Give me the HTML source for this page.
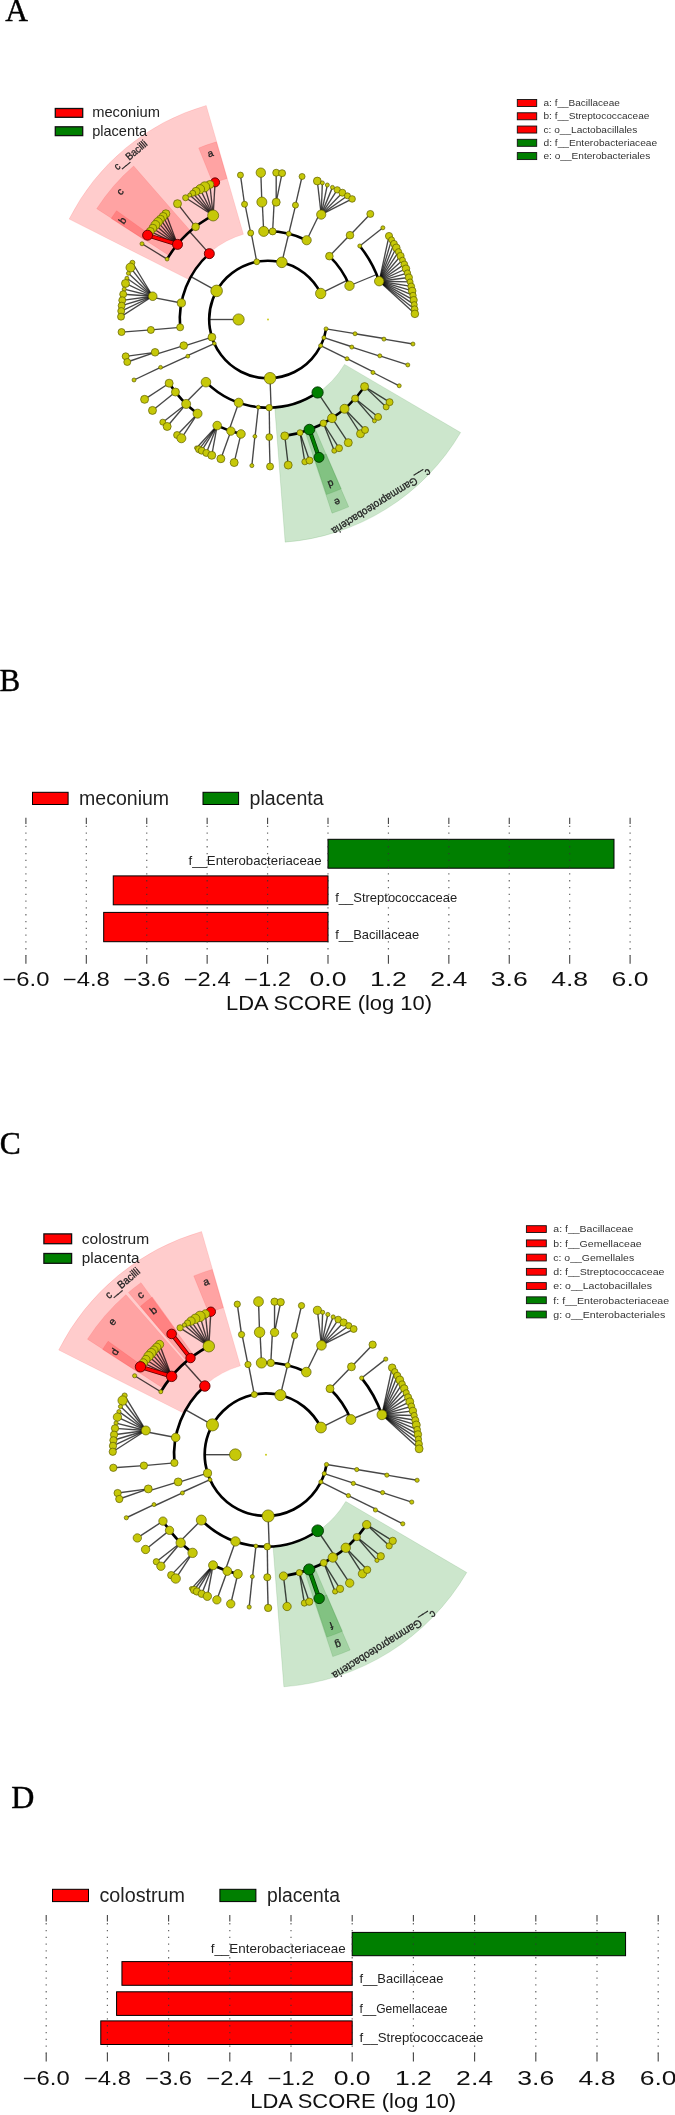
<!DOCTYPE html>
<html><head><meta charset="utf-8"><style>html,body{margin:0;padding:0;background:#fff;}svg{display:block;font-family:"Liberation Sans",sans-serif;filter:blur(0.35px);}</style></head><body>
<svg width="675" height="2115" viewBox="0 0 675 2115">
<rect width="675" height="2115" fill="#fff"/>
<text x="5.3" y="20.9" font-family="Liberation Serif" font-size="31.5" fill="#000" stroke="#000" stroke-width="0.45">A</text>
<text x="-0.6" y="690.6" font-family="Liberation Serif" font-size="31" fill="#000" stroke="#000" stroke-width="0.45">B</text>
<text x="-0.2" y="1153.9" font-family="Liberation Serif" font-size="31.5" fill="#000" stroke="#000" stroke-width="0.45">C</text>
<text x="11.3" y="1808.0" font-family="Liberation Serif" font-size="32" fill="#000" stroke="#000" stroke-width="0.45">D</text>
<path d="M206.21 105.44 A222.8 222.8 0 0 0 69.13 219.04 L188.83 279.51 A88.7 88.7 0 0 1 243.4 234.28 Z" fill="rgba(255,0,0,0.2)" stroke="rgba(255,0,0,0.12)" stroke-width="0.8"/>
<path d="M285.13 542.14 A223.3 223.3 0 0 0 460.6 432.5 L344.5 364.39 A88.7 88.7 0 0 1 274.8 407.94 Z" fill="rgba(0,128,0,0.2)" stroke="rgba(0,110,0,0.15)" stroke-width="0.8"/>
<path d="M133.63 166.01 A204 204 0 0 0 96.72 208.69 L169.76 255.95 A117 117 0 0 1 190.93 231.47 Z" fill="rgba(255,0,0,0.2)" stroke="rgba(255,0,0,0.12)" stroke-width="0.8"/>
<path d="M116.55 210.67 A186.5 186.5 0 0 0 111.23 218.47 L144.86 240.14 A146.5 146.5 0 0 1 149.03 234.01 Z" fill="rgba(255,0,0,0.2)" stroke="rgba(255,0,0,0.12)" stroke-width="0.8"/>
<path d="M216.39 141.85 A185 185 0 0 0 198.7 147.97 L213.01 183.39 A146.8 146.8 0 0 1 227.04 178.53 Z" fill="rgba(255,0,0,0.2)" stroke="rgba(255,0,0,0.12)" stroke-width="0.8"/>
<path d="M332.05 513.18 A204 204 0 0 0 348.69 506.86 L314.28 426.96 A117 117 0 0 1 304.74 430.58 Z" fill="rgba(0,128,0,0.2)" stroke="rgba(0,110,0,0.15)" stroke-width="0.8"/>
<path d="M326.54 494.47 A184.5 184.5 0 0 0 341.27 488.83 L326.18 453.95 A146.5 146.5 0 0 1 314.49 458.43 Z" fill="rgba(0,128,0,0.2)" stroke="rgba(0,110,0,0.15)" stroke-width="0.8"/>
<path d="M320.71 293.45 A58.8 58.8 0 1 0 326.04 328.9" fill="none" stroke="#000" stroke-width="2.6"/>
<path d="M351.79 347.05 A88.2 88.2 0 0 0 351.88 346.76" fill="none" stroke="#000" stroke-width="2.6"/>
<path d="M355.04 333.75 A88.2 88.2 0 0 0 355.07 333.6" fill="none" stroke="#000" stroke-width="2.6"/>
<path d="M349.49 285.75 A88.2 88.2 0 0 0 329.38 256.16" fill="none" stroke="#000" stroke-width="2.6"/>
<path d="M306.66 240.23 A88.2 88.2 0 0 0 263.69 231.41" fill="none" stroke="#000" stroke-width="2.6"/>
<path d="M251.17 232.92 A88.2 88.2 0 0 0 250.72 233.01" fill="none" stroke="#000" stroke-width="2.6"/>
<path d="M209.33 253.65 A88.2 88.2 0 0 0 180.15 327.34" fill="none" stroke="#000" stroke-width="2.6"/>
<path d="M183.74 345.58 A88.2 88.2 0 0 0 183.88 346.02" fill="none" stroke="#000" stroke-width="2.6"/>
<path d="M187.49 355.51 A88.2 88.2 0 0 0 187.81 356.22" fill="none" stroke="#000" stroke-width="2.6"/>
<path d="M205.96 382.19 A88.2 88.2 0 0 0 317.58 392.45" fill="none" stroke="#000" stroke-width="2.6"/>
<path d="M372.97 372.52 A117.6 117.6 0 0 0 373.34 371.79" fill="none" stroke="#000" stroke-width="2.6"/>
<path d="M379.72 356.23 A117.6 117.6 0 0 0 379.84 355.84" fill="none" stroke="#000" stroke-width="2.6"/>
<path d="M383.95 339.11 A117.6 117.6 0 0 0 384.05 338.5" fill="none" stroke="#000" stroke-width="2.6"/>
<path d="M379.19 281.21 A117.6 117.6 0 0 0 359.78 245.97" fill="none" stroke="#000" stroke-width="2.6"/>
<path d="M349.99 235.19 A117.6 117.6 0 0 0 349.84 235.05" fill="none" stroke="#000" stroke-width="2.6"/>
<path d="M321.21 214.62 A117.6 117.6 0 0 0 319.55 213.8" fill="none" stroke="#000" stroke-width="2.6"/>
<path d="M295.65 205.2 A117.6 117.6 0 0 0 295.45 205.15" fill="none" stroke="#000" stroke-width="2.6"/>
<path d="M276.2 202.19 A117.6 117.6 0 0 0 274.15 202.06" fill="none" stroke="#000" stroke-width="2.6"/>
<path d="M262.26 202.04 A117.6 117.6 0 0 0 261.85 202.06" fill="none" stroke="#000" stroke-width="2.6"/>
<path d="M244.96 204.18 A117.6 117.6 0 0 0 244.55 204.26" fill="none" stroke="#000" stroke-width="2.6"/>
<path d="M213.15 215.47 A117.6 117.6 0 0 0 167.09 259.11" fill="none" stroke="#000" stroke-width="2.6"/>
<path d="M152.72 296.26 A117.6 117.6 0 0 0 152.48 297.46" fill="none" stroke="#000" stroke-width="2.6"/>
<path d="M155.07 352.31 A117.6 117.6 0 0 0 155.66 354.28" fill="none" stroke="#000" stroke-width="2.6"/>
<path d="M160.57 367.33 A117.6 117.6 0 0 0 161.07 368.45" fill="none" stroke="#000" stroke-width="2.6"/>
<path d="M169.15 383.2 A117.6 117.6 0 0 0 197.55 413.67" fill="none" stroke="#000" stroke-width="2.6"/>
<path d="M217.19 425.56 A117.6 117.6 0 0 0 240.95 433.95" fill="none" stroke="#000" stroke-width="2.6"/>
<path d="M254.89 436.37 A117.6 117.6 0 0 0 255.1 436.39" fill="none" stroke="#000" stroke-width="2.6"/>
<path d="M269.23 437.09 A117.6 117.6 0 0 0 269.64 437.09" fill="none" stroke="#000" stroke-width="2.6"/>
<path d="M284.77 435.9 A117.6 117.6 0 0 0 364.57 386.62" fill="none" stroke="#000" stroke-width="2.6"/>
<g fill="none" stroke="#000" stroke-opacity="0.72" stroke-width="1.35">
<path d="M238.6 319.5L209.2 319.5"/>
<path d="M320.67 345.64L347 358.72"/>
<path d="M323.92 337.67L351.88 346.76"/>
<path d="M326.04 328.9L355.07 333.6"/>
<path d="M320.71 293.45L347.07 280.42"/>
<path d="M281.83 262.35L288.74 233.77"/>
<path d="M256.78 261.78L251.17 232.92"/>
<path d="M216.62 290.9L190.93 276.61"/>
<path d="M211.92 337.18L183.88 346.02"/>
<path d="M214.33 343.51L187.49 355.51"/>
<path d="M270.05 378.26L271.08 407.65"/>
<path d="M347 358.72L373.34 371.79"/>
<path d="M351.79 347.05L379.72 356.23"/>
<path d="M355.04 333.75L384.05 338.5"/>
<path d="M349.49 285.75L376.65 274.5"/>
<path d="M329.38 256.16L349.84 235.05"/>
<path d="M306.66 240.23L319.55 213.8"/>
<path d="M288.74 233.77L295.65 205.2"/>
<path d="M272.62 231.42L274.15 202.06"/>
<path d="M263.69 231.41L262.26 202.04"/>
<path d="M250.72 233.01L244.96 204.18"/>
<path d="M209.33 253.65L189.77 231.7"/>
<path d="M181.36 302.97L152.48 297.46"/>
<path d="M180.15 327.34L150.87 329.95"/>
<path d="M183.74 345.58L155.66 354.28"/>
<path d="M187.81 356.22L161.07 368.45"/>
<path d="M205.96 382.19L185.28 403.09"/>
<path d="M238.7 402.69L228.94 430.42"/>
<path d="M258.32 407.17L255.1 436.39"/>
<path d="M269.23 407.69L269.64 437.09"/>
<path d="M317.58 392.45L334.1 416.76"/>
<path d="M372.97 372.52L399.21 385.78"/>
<path d="M379.84 355.84L407.81 364.93"/>
<path d="M383.95 339.11L412.94 344.02"/>
<path d="M379.19 281.21L389 236.03"/>
<path d="M379.19 281.21L391.56 239.87"/>
<path d="M379.19 281.21L394 243.79"/>
<path d="M379.19 281.21L396.32 247.78"/>
<path d="M379.19 281.21L398.51 251.85"/>
<path d="M379.19 281.21L400.57 255.98"/>
<path d="M379.19 281.21L402.5 260.18"/>
<path d="M379.19 281.21L404.3 264.43"/>
<path d="M379.19 281.21L405.96 268.74"/>
<path d="M379.19 281.21L407.48 273.1"/>
<path d="M379.19 281.21L408.87 277.5"/>
<path d="M379.19 281.21L410.12 281.95"/>
<path d="M379.19 281.21L411.23 286.43"/>
<path d="M379.19 281.21L412.2 290.95"/>
<path d="M379.19 281.21L413.03 295.49"/>
<path d="M379.19 281.21L413.71 300.06"/>
<path d="M379.19 281.21L414.25 304.64"/>
<path d="M379.19 281.21L414.64 309.25"/>
<path d="M379.19 281.21L414.89 313.86"/>
<path d="M359.78 245.97L382.88 227.79"/>
<path d="M349.99 235.19L370.3 213.94"/>
<path d="M321.21 214.62L317.31 181.02"/>
<path d="M321.21 214.62L322.35 182.92"/>
<path d="M321.21 214.62L327.32 185"/>
<path d="M321.21 214.62L332.44 187.38"/>
<path d="M321.21 214.62L337.24 189.83"/>
<path d="M321.21 214.62L342.39 192.71"/>
<path d="M321.21 214.62L347.42 195.8"/>
<path d="M321.21 214.62L352.11 198.94"/>
<path d="M295.45 205.15L302.07 176.5"/>
<path d="M276.2 202.19L276.21 172.73"/>
<path d="M276.2 202.19L282.09 173.18"/>
<path d="M261.85 202.06L260.82 172.68"/>
<path d="M244.55 204.26L240.45 175.1"/>
<path d="M213.15 215.47L215.08 182.36"/>
<path d="M213.15 215.47L209.85 184.49"/>
<path d="M213.15 215.47L204.71 186.82"/>
<path d="M213.15 215.47L200.12 189.11"/>
<path d="M213.15 215.47L196.06 191.31"/>
<path d="M213.15 215.47L192.73 193.23"/>
<path d="M213.15 215.47L189.67 195.11"/>
<path d="M213.15 215.47L185.59 197.78"/>
<path d="M195.6 226.83L177.5 203.66"/>
<path d="M177.52 244.38L165.89 213.76"/>
<path d="M177.52 244.38L163.15 216.47"/>
<path d="M177.52 244.38L160.49 219.25"/>
<path d="M177.52 244.38L157.9 222.09"/>
<path d="M177.52 244.38L155.39 225.01"/>
<path d="M177.52 244.38L152.8 228.19"/>
<path d="M177.52 244.38L150.29 231.44"/>
<path d="M167.09 259.11L142 243.79"/>
<path d="M152.72 296.26L132.39 262.77"/>
<path d="M152.72 296.26L130.49 267.54"/>
<path d="M152.72 296.26L128.43 273.34"/>
<path d="M152.72 296.26L126.91 278.24"/>
<path d="M152.72 296.26L125.49 283.44"/>
<path d="M152.72 296.26L124.16 289.19"/>
<path d="M152.72 296.26L123.19 294.23"/>
<path d="M152.72 296.26L122.26 300.31"/>
<path d="M152.72 296.26L121.65 305.67"/>
<path d="M152.72 296.26L121.24 311.04"/>
<path d="M152.72 296.26L121.03 316.68"/>
<path d="M150.87 329.95L121.54 332.06"/>
<path d="M155.07 352.31L125.68 356.31"/>
<path d="M155.07 352.31L127.27 361.99"/>
<path d="M160.57 367.33L134.02 379.99"/>
<path d="M169.15 383.2L144.58 399.35"/>
<path d="M175.46 392.06L152.48 410.41"/>
<path d="M186.16 403.95L162.79 422.17"/>
<path d="M186.16 403.95L167.18 426.48"/>
<path d="M197.55 413.67L177.09 435.02"/>
<path d="M197.55 413.67L181.39 438.27"/>
<path d="M217.19 425.56L196.51 447.94"/>
<path d="M217.19 425.56L198.99 449.29"/>
<path d="M217.19 425.56L201.72 450.71"/>
<path d="M217.19 425.56L206.34 452.94"/>
<path d="M217.19 425.56L211.75 455.31"/>
<path d="M230.88 431.09L220.87 458.74"/>
<path d="M240.95 433.95L234.18 462.56"/>
<path d="M254.89 436.37L251.87 465.61"/>
<path d="M269.23 437.09L270.05 466.49"/>
<path d="M284.77 435.9L288.2 465.1"/>
<path d="M300.02 432.66L304.81 461.82"/>
<path d="M300.02 432.66L309.5 460.52"/>
<path d="M323.39 423.24L334.28 450.71"/>
<path d="M323.39 423.24L339.04 448.19"/>
<path d="M332.05 418.13L348.28 442.64"/>
<path d="M344.53 408.79L360.51 433.74"/>
<path d="M344.53 408.79L365.02 429.94"/>
<path d="M355.12 398.49L374.45 420.87"/>
<path d="M355.12 398.49L378.1 416.91"/>
<path d="M364.57 386.62L386.17 406.94"/>
<path d="M364.57 386.62L389.58 402.13"/>
</g>
<path d="M177.52 244.38L147.58 235.18" stroke="#5a0000" stroke-width="4.2" stroke-linecap="round"/>
<path d="M177.52 244.38L147.58 235.18" stroke="#ff0000" stroke-width="2.8" stroke-linecap="round"/>
<path d="M309.38 429.58L319 457.37" stroke="#003300" stroke-width="4.2" stroke-linecap="round"/>
<path d="M309.38 429.58L319 457.37" stroke="#008000" stroke-width="2.8" stroke-linecap="round"/>
<circle cx="268" cy="319.5" r="0.9" fill="#c6c808"/>
<circle cx="238.6" cy="319.5" r="5.6" fill="#c6c808" stroke="#5e5e00" stroke-width="0.7"/>
<circle cx="320.67" cy="345.64" r="2" fill="#c6c808" stroke="#5e5e00" stroke-width="0.7"/>
<circle cx="323.92" cy="337.67" r="2" fill="#c6c808" stroke="#5e5e00" stroke-width="0.7"/>
<circle cx="326.04" cy="328.9" r="2" fill="#c6c808" stroke="#5e5e00" stroke-width="0.7"/>
<circle cx="320.71" cy="293.45" r="5.2" fill="#c6c808" stroke="#5e5e00" stroke-width="0.7"/>
<circle cx="281.83" cy="262.35" r="5.3" fill="#c6c808" stroke="#5e5e00" stroke-width="0.7"/>
<circle cx="256.78" cy="261.78" r="2.9" fill="#c6c808" stroke="#5e5e00" stroke-width="0.7"/>
<circle cx="216.62" cy="290.9" r="5.8" fill="#c6c808" stroke="#5e5e00" stroke-width="0.7"/>
<circle cx="211.92" cy="337.18" r="3.9" fill="#c6c808" stroke="#5e5e00" stroke-width="0.7"/>
<circle cx="214.33" cy="343.51" r="1.8" fill="#c6c808" stroke="#5e5e00" stroke-width="0.7"/>
<circle cx="270.05" cy="378.26" r="5.8" fill="#c6c808" stroke="#5e5e00" stroke-width="0.7"/>
<circle cx="347" cy="358.72" r="2" fill="#c6c808" stroke="#5e5e00" stroke-width="0.7"/>
<circle cx="351.79" cy="347.05" r="2" fill="#c6c808" stroke="#5e5e00" stroke-width="0.7"/>
<circle cx="355.04" cy="333.75" r="2" fill="#c6c808" stroke="#5e5e00" stroke-width="0.7"/>
<circle cx="349.49" cy="285.75" r="4.7" fill="#c6c808" stroke="#5e5e00" stroke-width="0.7"/>
<circle cx="329.38" cy="256.16" r="3.8" fill="#c6c808" stroke="#5e5e00" stroke-width="0.7"/>
<circle cx="306.66" cy="240.23" r="4.6" fill="#c6c808" stroke="#5e5e00" stroke-width="0.7"/>
<circle cx="288.74" cy="233.77" r="2.5" fill="#c6c808" stroke="#5e5e00" stroke-width="0.7"/>
<circle cx="272.62" cy="231.42" r="3.5" fill="#c6c808" stroke="#5e5e00" stroke-width="0.7"/>
<circle cx="263.69" cy="231.41" r="5" fill="#c6c808" stroke="#5e5e00" stroke-width="0.7"/>
<circle cx="250.72" cy="233.01" r="3" fill="#c6c808" stroke="#5e5e00" stroke-width="0.7"/>
<circle cx="209.33" cy="253.65" r="5" fill="#ff0000" stroke="#5a0000" stroke-width="0.9"/>
<circle cx="181.36" cy="302.97" r="4.1" fill="#c6c808" stroke="#5e5e00" stroke-width="0.7"/>
<circle cx="180.15" cy="327.34" r="3.5" fill="#c6c808" stroke="#5e5e00" stroke-width="0.7"/>
<circle cx="183.74" cy="345.58" r="3.8" fill="#c6c808" stroke="#5e5e00" stroke-width="0.7"/>
<circle cx="187.81" cy="356.22" r="1.9" fill="#c6c808" stroke="#5e5e00" stroke-width="0.7"/>
<circle cx="205.96" cy="382.19" r="4.8" fill="#c6c808" stroke="#5e5e00" stroke-width="0.7"/>
<circle cx="238.7" cy="402.69" r="4.5" fill="#c6c808" stroke="#5e5e00" stroke-width="0.7"/>
<circle cx="258.32" cy="407.17" r="1.9" fill="#c6c808" stroke="#5e5e00" stroke-width="0.7"/>
<circle cx="269.23" cy="407.69" r="3.2" fill="#c6c808" stroke="#5e5e00" stroke-width="0.7"/>
<circle cx="317.58" cy="392.45" r="5.6" fill="#008000" stroke="#003300" stroke-width="0.9"/>
<circle cx="372.97" cy="372.52" r="2" fill="#c6c808" stroke="#5e5e00" stroke-width="0.7"/>
<circle cx="379.84" cy="355.84" r="2" fill="#c6c808" stroke="#5e5e00" stroke-width="0.7"/>
<circle cx="383.95" cy="339.11" r="2" fill="#c6c808" stroke="#5e5e00" stroke-width="0.7"/>
<circle cx="379.19" cy="281.21" r="4.7" fill="#c6c808" stroke="#5e5e00" stroke-width="0.7"/>
<circle cx="359.78" cy="245.97" r="2" fill="#c6c808" stroke="#5e5e00" stroke-width="0.7"/>
<circle cx="349.99" cy="235.19" r="3.8" fill="#c6c808" stroke="#5e5e00" stroke-width="0.7"/>
<circle cx="321.21" cy="214.62" r="4.6" fill="#c6c808" stroke="#5e5e00" stroke-width="0.7"/>
<circle cx="295.45" cy="205.15" r="3" fill="#c6c808" stroke="#5e5e00" stroke-width="0.7"/>
<circle cx="276.2" cy="202.19" r="4" fill="#c6c808" stroke="#5e5e00" stroke-width="0.7"/>
<circle cx="261.85" cy="202.06" r="5" fill="#c6c808" stroke="#5e5e00" stroke-width="0.7"/>
<circle cx="244.55" cy="204.26" r="3" fill="#c6c808" stroke="#5e5e00" stroke-width="0.7"/>
<circle cx="213.15" cy="215.47" r="5.5" fill="#c6c808" stroke="#5e5e00" stroke-width="0.7"/>
<circle cx="195.6" cy="226.83" r="3.8" fill="#c6c808" stroke="#5e5e00" stroke-width="0.7"/>
<circle cx="177.52" cy="244.38" r="5" fill="#ff0000" stroke="#5a0000" stroke-width="0.9"/>
<circle cx="167.09" cy="259.11" r="1.9" fill="#c6c808" stroke="#5e5e00" stroke-width="0.7"/>
<circle cx="152.72" cy="296.26" r="4.3" fill="#c6c808" stroke="#5e5e00" stroke-width="0.7"/>
<circle cx="150.87" cy="329.95" r="3.5" fill="#c6c808" stroke="#5e5e00" stroke-width="0.7"/>
<circle cx="155.07" cy="352.31" r="3.8" fill="#c6c808" stroke="#5e5e00" stroke-width="0.7"/>
<circle cx="160.57" cy="367.33" r="1.9" fill="#c6c808" stroke="#5e5e00" stroke-width="0.7"/>
<circle cx="169.15" cy="383.2" r="4" fill="#c6c808" stroke="#5e5e00" stroke-width="0.7"/>
<circle cx="175.46" cy="392.06" r="4" fill="#c6c808" stroke="#5e5e00" stroke-width="0.7"/>
<circle cx="186.16" cy="403.95" r="4.5" fill="#c6c808" stroke="#5e5e00" stroke-width="0.7"/>
<circle cx="197.55" cy="413.67" r="4.5" fill="#c6c808" stroke="#5e5e00" stroke-width="0.7"/>
<circle cx="217.19" cy="425.56" r="4.3" fill="#c6c808" stroke="#5e5e00" stroke-width="0.7"/>
<circle cx="230.88" cy="431.09" r="4.2" fill="#c6c808" stroke="#5e5e00" stroke-width="0.7"/>
<circle cx="240.95" cy="433.95" r="4.3" fill="#c6c808" stroke="#5e5e00" stroke-width="0.7"/>
<circle cx="254.89" cy="436.37" r="1.9" fill="#c6c808" stroke="#5e5e00" stroke-width="0.7"/>
<circle cx="269.23" cy="437.09" r="3.4" fill="#c6c808" stroke="#5e5e00" stroke-width="0.7"/>
<circle cx="284.77" cy="435.9" r="4" fill="#c6c808" stroke="#5e5e00" stroke-width="0.7"/>
<circle cx="300.02" cy="432.66" r="3" fill="#c6c808" stroke="#5e5e00" stroke-width="0.7"/>
<circle cx="309.38" cy="429.58" r="5.3" fill="#008000" stroke="#003300" stroke-width="0.9"/>
<circle cx="323.39" cy="423.24" r="3.3" fill="#c6c808" stroke="#5e5e00" stroke-width="0.7"/>
<circle cx="332.05" cy="418.13" r="4.5" fill="#c6c808" stroke="#5e5e00" stroke-width="0.7"/>
<circle cx="344.53" cy="408.79" r="4.5" fill="#c6c808" stroke="#5e5e00" stroke-width="0.7"/>
<circle cx="355.12" cy="398.49" r="3.5" fill="#c6c808" stroke="#5e5e00" stroke-width="0.7"/>
<circle cx="364.57" cy="386.62" r="4" fill="#c6c808" stroke="#5e5e00" stroke-width="0.7"/>
<circle cx="399.21" cy="385.78" r="2" fill="#c6c808" stroke="#5e5e00" stroke-width="0.7"/>
<circle cx="407.81" cy="364.93" r="2" fill="#c6c808" stroke="#5e5e00" stroke-width="0.7"/>
<circle cx="412.94" cy="344.02" r="2" fill="#c6c808" stroke="#5e5e00" stroke-width="0.7"/>
<circle cx="389" cy="236.03" r="3.6" fill="#c6c808" stroke="#5e5e00" stroke-width="0.7"/>
<circle cx="391.56" cy="239.87" r="3" fill="#c6c808" stroke="#5e5e00" stroke-width="0.7"/>
<circle cx="394" cy="243.79" r="3.4" fill="#c6c808" stroke="#5e5e00" stroke-width="0.7"/>
<circle cx="396.32" cy="247.78" r="3.8" fill="#c6c808" stroke="#5e5e00" stroke-width="0.7"/>
<circle cx="398.51" cy="251.85" r="3.2" fill="#c6c808" stroke="#5e5e00" stroke-width="0.7"/>
<circle cx="400.57" cy="255.98" r="3.6" fill="#c6c808" stroke="#5e5e00" stroke-width="0.7"/>
<circle cx="402.5" cy="260.18" r="3" fill="#c6c808" stroke="#5e5e00" stroke-width="0.7"/>
<circle cx="404.3" cy="264.43" r="3.4" fill="#c6c808" stroke="#5e5e00" stroke-width="0.7"/>
<circle cx="405.96" cy="268.74" r="3.8" fill="#c6c808" stroke="#5e5e00" stroke-width="0.7"/>
<circle cx="407.48" cy="273.1" r="3.2" fill="#c6c808" stroke="#5e5e00" stroke-width="0.7"/>
<circle cx="408.87" cy="277.5" r="3.6" fill="#c6c808" stroke="#5e5e00" stroke-width="0.7"/>
<circle cx="410.12" cy="281.95" r="3" fill="#c6c808" stroke="#5e5e00" stroke-width="0.7"/>
<circle cx="411.23" cy="286.43" r="3.4" fill="#c6c808" stroke="#5e5e00" stroke-width="0.7"/>
<circle cx="412.2" cy="290.95" r="3.8" fill="#c6c808" stroke="#5e5e00" stroke-width="0.7"/>
<circle cx="413.03" cy="295.49" r="3.2" fill="#c6c808" stroke="#5e5e00" stroke-width="0.7"/>
<circle cx="413.71" cy="300.06" r="3.6" fill="#c6c808" stroke="#5e5e00" stroke-width="0.7"/>
<circle cx="414.25" cy="304.64" r="3" fill="#c6c808" stroke="#5e5e00" stroke-width="0.7"/>
<circle cx="414.64" cy="309.25" r="3.4" fill="#c6c808" stroke="#5e5e00" stroke-width="0.7"/>
<circle cx="414.89" cy="313.86" r="3.8" fill="#c6c808" stroke="#5e5e00" stroke-width="0.7"/>
<circle cx="382.88" cy="227.79" r="2" fill="#c6c808" stroke="#5e5e00" stroke-width="0.7"/>
<circle cx="370.3" cy="213.94" r="3.5" fill="#c6c808" stroke="#5e5e00" stroke-width="0.7"/>
<circle cx="317.31" cy="181.02" r="3.9" fill="#c6c808" stroke="#5e5e00" stroke-width="0.7"/>
<circle cx="322.35" cy="182.92" r="2" fill="#c6c808" stroke="#5e5e00" stroke-width="0.7"/>
<circle cx="327.32" cy="185" r="2" fill="#c6c808" stroke="#5e5e00" stroke-width="0.7"/>
<circle cx="332.44" cy="187.38" r="2" fill="#c6c808" stroke="#5e5e00" stroke-width="0.7"/>
<circle cx="337.24" cy="189.83" r="3.2" fill="#c6c808" stroke="#5e5e00" stroke-width="0.7"/>
<circle cx="342.39" cy="192.71" r="3.5" fill="#c6c808" stroke="#5e5e00" stroke-width="0.7"/>
<circle cx="347.42" cy="195.8" r="3" fill="#c6c808" stroke="#5e5e00" stroke-width="0.7"/>
<circle cx="352.11" cy="198.94" r="3.3" fill="#c6c808" stroke="#5e5e00" stroke-width="0.7"/>
<circle cx="302.07" cy="176.5" r="3" fill="#c6c808" stroke="#5e5e00" stroke-width="0.7"/>
<circle cx="276.21" cy="172.73" r="3.5" fill="#c6c808" stroke="#5e5e00" stroke-width="0.7"/>
<circle cx="282.09" cy="173.18" r="3.5" fill="#c6c808" stroke="#5e5e00" stroke-width="0.7"/>
<circle cx="260.82" cy="172.68" r="4.7" fill="#c6c808" stroke="#5e5e00" stroke-width="0.7"/>
<circle cx="240.45" cy="175.1" r="3" fill="#c6c808" stroke="#5e5e00" stroke-width="0.7"/>
<circle cx="215.08" cy="182.36" r="4.5" fill="#ff0000" stroke="#5a0000" stroke-width="0.9"/>
<circle cx="209.85" cy="184.49" r="4" fill="#c6c808" stroke="#5e5e00" stroke-width="0.7"/>
<circle cx="204.71" cy="186.82" r="5" fill="#c6c808" stroke="#5e5e00" stroke-width="0.7"/>
<circle cx="200.12" cy="189.11" r="4.5" fill="#c6c808" stroke="#5e5e00" stroke-width="0.7"/>
<circle cx="196.06" cy="191.31" r="4" fill="#c6c808" stroke="#5e5e00" stroke-width="0.7"/>
<circle cx="192.73" cy="193.23" r="3" fill="#c6c808" stroke="#5e5e00" stroke-width="0.7"/>
<circle cx="189.67" cy="195.11" r="2" fill="#c6c808" stroke="#5e5e00" stroke-width="0.7"/>
<circle cx="185.59" cy="197.78" r="3" fill="#c6c808" stroke="#5e5e00" stroke-width="0.7"/>
<circle cx="177.5" cy="203.66" r="4" fill="#c6c808" stroke="#5e5e00" stroke-width="0.7"/>
<circle cx="165.89" cy="213.76" r="4" fill="#c6c808" stroke="#5e5e00" stroke-width="0.7"/>
<circle cx="163.15" cy="216.47" r="4" fill="#c6c808" stroke="#5e5e00" stroke-width="0.7"/>
<circle cx="160.49" cy="219.25" r="4" fill="#c6c808" stroke="#5e5e00" stroke-width="0.7"/>
<circle cx="157.9" cy="222.09" r="4.5" fill="#c6c808" stroke="#5e5e00" stroke-width="0.7"/>
<circle cx="155.39" cy="225.01" r="4.5" fill="#c6c808" stroke="#5e5e00" stroke-width="0.7"/>
<circle cx="152.8" cy="228.19" r="4" fill="#c6c808" stroke="#5e5e00" stroke-width="0.7"/>
<circle cx="150.29" cy="231.44" r="4" fill="#c6c808" stroke="#5e5e00" stroke-width="0.7"/>
<circle cx="147.58" cy="235.18" r="5" fill="#ff0000" stroke="#5a0000" stroke-width="0.9"/>
<circle cx="142" cy="243.79" r="2" fill="#c6c808" stroke="#5e5e00" stroke-width="0.7"/>
<circle cx="132.39" cy="262.77" r="2.5" fill="#c6c808" stroke="#5e5e00" stroke-width="0.7"/>
<circle cx="130.49" cy="267.54" r="4.5" fill="#c6c808" stroke="#5e5e00" stroke-width="0.7"/>
<circle cx="128.43" cy="273.34" r="2" fill="#c6c808" stroke="#5e5e00" stroke-width="0.7"/>
<circle cx="126.91" cy="278.24" r="2" fill="#c6c808" stroke="#5e5e00" stroke-width="0.7"/>
<circle cx="125.49" cy="283.44" r="4" fill="#c6c808" stroke="#5e5e00" stroke-width="0.7"/>
<circle cx="124.16" cy="289.19" r="2" fill="#c6c808" stroke="#5e5e00" stroke-width="0.7"/>
<circle cx="123.19" cy="294.23" r="3.5" fill="#c6c808" stroke="#5e5e00" stroke-width="0.7"/>
<circle cx="122.26" cy="300.31" r="3.5" fill="#c6c808" stroke="#5e5e00" stroke-width="0.7"/>
<circle cx="121.65" cy="305.67" r="3.5" fill="#c6c808" stroke="#5e5e00" stroke-width="0.7"/>
<circle cx="121.24" cy="311.04" r="3.5" fill="#c6c808" stroke="#5e5e00" stroke-width="0.7"/>
<circle cx="121.03" cy="316.68" r="3.5" fill="#c6c808" stroke="#5e5e00" stroke-width="0.7"/>
<circle cx="121.54" cy="332.06" r="3.5" fill="#c6c808" stroke="#5e5e00" stroke-width="0.7"/>
<circle cx="125.68" cy="356.31" r="3.5" fill="#c6c808" stroke="#5e5e00" stroke-width="0.7"/>
<circle cx="127.27" cy="361.99" r="3.5" fill="#c6c808" stroke="#5e5e00" stroke-width="0.7"/>
<circle cx="134.02" cy="379.99" r="2" fill="#c6c808" stroke="#5e5e00" stroke-width="0.7"/>
<circle cx="144.58" cy="399.35" r="4" fill="#c6c808" stroke="#5e5e00" stroke-width="0.7"/>
<circle cx="152.48" cy="410.41" r="4" fill="#c6c808" stroke="#5e5e00" stroke-width="0.7"/>
<circle cx="162.79" cy="422.17" r="3" fill="#c6c808" stroke="#5e5e00" stroke-width="0.7"/>
<circle cx="167.18" cy="426.48" r="4" fill="#c6c808" stroke="#5e5e00" stroke-width="0.7"/>
<circle cx="177.09" cy="435.02" r="3.5" fill="#c6c808" stroke="#5e5e00" stroke-width="0.7"/>
<circle cx="181.39" cy="438.27" r="4.5" fill="#c6c808" stroke="#5e5e00" stroke-width="0.7"/>
<circle cx="196.51" cy="447.94" r="2" fill="#c6c808" stroke="#5e5e00" stroke-width="0.7"/>
<circle cx="198.99" cy="449.29" r="3.5" fill="#c6c808" stroke="#5e5e00" stroke-width="0.7"/>
<circle cx="201.72" cy="450.71" r="3.5" fill="#c6c808" stroke="#5e5e00" stroke-width="0.7"/>
<circle cx="206.34" cy="452.94" r="3.5" fill="#c6c808" stroke="#5e5e00" stroke-width="0.7"/>
<circle cx="211.75" cy="455.31" r="4" fill="#c6c808" stroke="#5e5e00" stroke-width="0.7"/>
<circle cx="220.87" cy="458.74" r="4" fill="#c6c808" stroke="#5e5e00" stroke-width="0.7"/>
<circle cx="234.18" cy="462.56" r="4" fill="#c6c808" stroke="#5e5e00" stroke-width="0.7"/>
<circle cx="251.87" cy="465.61" r="2" fill="#c6c808" stroke="#5e5e00" stroke-width="0.7"/>
<circle cx="270.05" cy="466.49" r="3.5" fill="#c6c808" stroke="#5e5e00" stroke-width="0.7"/>
<circle cx="288.2" cy="465.1" r="4" fill="#c6c808" stroke="#5e5e00" stroke-width="0.7"/>
<circle cx="304.81" cy="461.82" r="3" fill="#c6c808" stroke="#5e5e00" stroke-width="0.7"/>
<circle cx="309.5" cy="460.52" r="3.5" fill="#c6c808" stroke="#5e5e00" stroke-width="0.7"/>
<circle cx="319" cy="457.37" r="5" fill="#008000" stroke="#003300" stroke-width="0.9"/>
<circle cx="334.28" cy="450.71" r="2.5" fill="#c6c808" stroke="#5e5e00" stroke-width="0.7"/>
<circle cx="339.04" cy="448.19" r="3.5" fill="#c6c808" stroke="#5e5e00" stroke-width="0.7"/>
<circle cx="348.28" cy="442.64" r="4" fill="#c6c808" stroke="#5e5e00" stroke-width="0.7"/>
<circle cx="360.51" cy="433.74" r="4" fill="#c6c808" stroke="#5e5e00" stroke-width="0.7"/>
<circle cx="365.02" cy="429.94" r="3.5" fill="#c6c808" stroke="#5e5e00" stroke-width="0.7"/>
<circle cx="374.45" cy="420.87" r="2" fill="#c6c808" stroke="#5e5e00" stroke-width="0.7"/>
<circle cx="378.1" cy="416.91" r="3.5" fill="#c6c808" stroke="#5e5e00" stroke-width="0.7"/>
<circle cx="386.17" cy="406.94" r="3" fill="#c6c808" stroke="#5e5e00" stroke-width="0.7"/>
<circle cx="389.58" cy="402.13" r="3.5" fill="#c6c808" stroke="#5e5e00" stroke-width="0.7"/>
<text x="130.22" y="154.71" transform="rotate(-39.9 130.22 154.71)" font-size="10.6" text-anchor="middle" dominant-baseline="central" fill="#222" stroke="#222" stroke-width="0.3" textLength="40" lengthAdjust="spacingAndGlyphs">c__Bacilli</text>
<text x="381.61" y="502.03" transform="rotate(148.1 381.61 502.03)" font-size="10.8" text-anchor="middle" dominant-baseline="central" fill="#222" stroke="#222" stroke-width="0.3" textLength="115" lengthAdjust="spacingAndGlyphs">c__Gammaproteobacteria</text>
<text x="210.41" y="153.19" transform="rotate(-19.1 210.41 153.19)" font-size="10.2" text-anchor="middle" dominant-baseline="central" fill="#222" stroke="#222" stroke-width="0.3">a</text>
<text x="122.52" y="220.45" transform="rotate(-55.75 122.52 220.45)" font-size="10.2" text-anchor="middle" dominant-baseline="central" fill="#222" stroke="#222" stroke-width="0.3">b</text>
<text x="120.12" y="191.63" transform="rotate(-49.15 120.12 191.63)" font-size="10.2" text-anchor="middle" dominant-baseline="central" fill="#222" stroke="#222" stroke-width="0.3">c</text>
<text x="330.79" y="483.92" transform="rotate(159.1 330.79 483.92)" font-size="10.2" text-anchor="middle" dominant-baseline="central" fill="#222" stroke="#222" stroke-width="0.3">d</text>
<text x="337.42" y="502.26" transform="rotate(159.2 337.42 502.26)" font-size="10.2" text-anchor="middle" dominant-baseline="central" fill="#222" stroke="#222" stroke-width="0.3">e</text>
<rect x="55.3" y="108.5" width="27.4" height="8.8" fill="#ff0000" stroke="#111" stroke-width="1.3"/>
<text x="92.2" y="117.2" font-size="14.6" fill="#222" textLength="67.8" lengthAdjust="spacingAndGlyphs">meconium</text>
<rect x="55.3" y="126.8" width="27.4" height="8.8" fill="#007f00" stroke="#111" stroke-width="1.3"/>
<text x="92.2" y="135.5" font-size="14.6" fill="#222" textLength="55" lengthAdjust="spacingAndGlyphs">placenta</text>
<rect x="517.3" y="99.5" width="19.4" height="7" fill="#ff0000" stroke="#111" stroke-width="0.9"/>
<text x="543.5" y="106" font-size="8.7" fill="#333" textLength="76.3" lengthAdjust="spacingAndGlyphs">a: f__Bacillaceae</text>
<rect x="517.3" y="112.77" width="19.4" height="7" fill="#ff0000" stroke="#111" stroke-width="0.9"/>
<text x="543.5" y="119.27" font-size="8.7" fill="#333" textLength="105.9" lengthAdjust="spacingAndGlyphs">b: f__Streptococcaceae</text>
<rect x="517.3" y="126.04" width="19.4" height="7" fill="#ff0000" stroke="#111" stroke-width="0.9"/>
<text x="543.5" y="132.54" font-size="8.7" fill="#333" textLength="93.8" lengthAdjust="spacingAndGlyphs">c: o__Lactobacillales</text>
<rect x="517.3" y="139.31" width="19.4" height="7" fill="#007f00" stroke="#111" stroke-width="0.9"/>
<text x="543.5" y="145.81" font-size="8.7" fill="#333" textLength="113.6" lengthAdjust="spacingAndGlyphs">d: f__Enterobacteriaceae</text>
<rect x="517.3" y="152.58" width="19.4" height="7" fill="#007f00" stroke="#111" stroke-width="0.9"/>
<text x="543.5" y="159.08" font-size="8.7" fill="#333" textLength="106.7" lengthAdjust="spacingAndGlyphs">e: o__Enterobacteriales</text>
<rect x="32.5" y="792.3" width="35.6" height="12.2" fill="#ff0000" stroke="#000" stroke-width="1"/>
<text x="79.1" y="804.9" font-size="19.5" fill="#222" textLength="90" lengthAdjust="spacingAndGlyphs">meconium</text>
<rect x="203" y="792.3" width="35.6" height="12.2" fill="#007f00" stroke="#000" stroke-width="1"/>
<text x="249.6" y="804.9" font-size="19.5" fill="#222" textLength="74" lengthAdjust="spacingAndGlyphs">placenta</text>
<text x="25.9" y="986" font-size="19.6" text-anchor="middle" fill="#111" textLength="47" lengthAdjust="spacingAndGlyphs">−6.0</text>
<text x="86.32" y="986" font-size="19.6" text-anchor="middle" fill="#111" textLength="47" lengthAdjust="spacingAndGlyphs">−4.8</text>
<text x="146.74" y="986" font-size="19.6" text-anchor="middle" fill="#111" textLength="47" lengthAdjust="spacingAndGlyphs">−3.6</text>
<text x="207.16" y="986" font-size="19.6" text-anchor="middle" fill="#111" textLength="47" lengthAdjust="spacingAndGlyphs">−2.4</text>
<text x="267.58" y="986" font-size="19.6" text-anchor="middle" fill="#111" textLength="47" lengthAdjust="spacingAndGlyphs">−1.2</text>
<text x="328" y="986" font-size="19.6" text-anchor="middle" fill="#111" textLength="37" lengthAdjust="spacingAndGlyphs">0.0</text>
<text x="388.42" y="986" font-size="19.6" text-anchor="middle" fill="#111" textLength="37" lengthAdjust="spacingAndGlyphs">1.2</text>
<text x="448.84" y="986" font-size="19.6" text-anchor="middle" fill="#111" textLength="37" lengthAdjust="spacingAndGlyphs">2.4</text>
<text x="509.26" y="986" font-size="19.6" text-anchor="middle" fill="#111" textLength="37" lengthAdjust="spacingAndGlyphs">3.6</text>
<text x="569.68" y="986" font-size="19.6" text-anchor="middle" fill="#111" textLength="37" lengthAdjust="spacingAndGlyphs">4.8</text>
<text x="630.1" y="986" font-size="19.6" text-anchor="middle" fill="#111" textLength="37" lengthAdjust="spacingAndGlyphs">6.0</text>
<text x="329" y="1010.2" font-size="19.6" text-anchor="middle" fill="#111" textLength="206" lengthAdjust="spacingAndGlyphs">LDA SCORE (log 10)</text>
<rect x="328" y="839.3" width="285.99" height="28.9" fill="#007f00" stroke="#000" stroke-width="1"/>
<text x="321.5" y="865.4" font-size="12.6" text-anchor="end" fill="#222" textLength="133" lengthAdjust="spacingAndGlyphs">f__Enterobacteriaceae</text>
<rect x="113.26" y="875.9" width="214.74" height="28.9" fill="#ff0000" stroke="#000" stroke-width="1"/>
<text x="335.2" y="902" font-size="12.6" fill="#222" textLength="122" lengthAdjust="spacingAndGlyphs">f__Streptococcaceae</text>
<rect x="103.69" y="912.4" width="224.31" height="29.3" fill="#ff0000" stroke="#000" stroke-width="1"/>
<text x="335.2" y="938.9" font-size="12.6" fill="#222" textLength="84" lengthAdjust="spacingAndGlyphs">f__Bacillaceae</text>
<line x1="25.9" y1="825.7" x2="25.9" y2="955.8" stroke="#333" stroke-opacity="0.75" stroke-width="1.2" stroke-dasharray="1.3 5.5"/>
<line x1="25.9" y1="817.7" x2="25.9" y2="824" stroke="#444" stroke-width="1.1"/>
<line x1="25.9" y1="955.3" x2="25.9" y2="963.8" stroke="#444" stroke-width="1.1"/>
<line x1="86.32" y1="825.7" x2="86.32" y2="955.8" stroke="#333" stroke-opacity="0.75" stroke-width="1.2" stroke-dasharray="1.3 5.5"/>
<line x1="86.32" y1="817.7" x2="86.32" y2="824" stroke="#444" stroke-width="1.1"/>
<line x1="86.32" y1="955.3" x2="86.32" y2="963.8" stroke="#444" stroke-width="1.1"/>
<line x1="146.74" y1="825.7" x2="146.74" y2="955.8" stroke="#333" stroke-opacity="0.75" stroke-width="1.2" stroke-dasharray="1.3 5.5"/>
<line x1="146.74" y1="817.7" x2="146.74" y2="824" stroke="#444" stroke-width="1.1"/>
<line x1="146.74" y1="955.3" x2="146.74" y2="963.8" stroke="#444" stroke-width="1.1"/>
<line x1="207.16" y1="825.7" x2="207.16" y2="955.8" stroke="#333" stroke-opacity="0.75" stroke-width="1.2" stroke-dasharray="1.3 5.5"/>
<line x1="207.16" y1="817.7" x2="207.16" y2="824" stroke="#444" stroke-width="1.1"/>
<line x1="207.16" y1="955.3" x2="207.16" y2="963.8" stroke="#444" stroke-width="1.1"/>
<line x1="267.58" y1="825.7" x2="267.58" y2="955.8" stroke="#333" stroke-opacity="0.75" stroke-width="1.2" stroke-dasharray="1.3 5.5"/>
<line x1="267.58" y1="817.7" x2="267.58" y2="824" stroke="#444" stroke-width="1.1"/>
<line x1="267.58" y1="955.3" x2="267.58" y2="963.8" stroke="#444" stroke-width="1.1"/>
<line x1="328" y1="825.7" x2="328" y2="955.8" stroke="#333" stroke-opacity="0.75" stroke-width="1.2" stroke-dasharray="1.3 5.5"/>
<line x1="328" y1="817.7" x2="328" y2="824" stroke="#444" stroke-width="1.1"/>
<line x1="328" y1="955.3" x2="328" y2="963.8" stroke="#444" stroke-width="1.1"/>
<line x1="388.42" y1="825.7" x2="388.42" y2="955.8" stroke="#333" stroke-opacity="0.75" stroke-width="1.2" stroke-dasharray="1.3 5.5"/>
<line x1="388.42" y1="817.7" x2="388.42" y2="824" stroke="#444" stroke-width="1.1"/>
<line x1="388.42" y1="955.3" x2="388.42" y2="963.8" stroke="#444" stroke-width="1.1"/>
<line x1="448.84" y1="825.7" x2="448.84" y2="955.8" stroke="#333" stroke-opacity="0.75" stroke-width="1.2" stroke-dasharray="1.3 5.5"/>
<line x1="448.84" y1="817.7" x2="448.84" y2="824" stroke="#444" stroke-width="1.1"/>
<line x1="448.84" y1="955.3" x2="448.84" y2="963.8" stroke="#444" stroke-width="1.1"/>
<line x1="509.26" y1="825.7" x2="509.26" y2="955.8" stroke="#333" stroke-opacity="0.75" stroke-width="1.2" stroke-dasharray="1.3 5.5"/>
<line x1="509.26" y1="817.7" x2="509.26" y2="824" stroke="#444" stroke-width="1.1"/>
<line x1="509.26" y1="955.3" x2="509.26" y2="963.8" stroke="#444" stroke-width="1.1"/>
<line x1="569.68" y1="825.7" x2="569.68" y2="955.8" stroke="#333" stroke-opacity="0.75" stroke-width="1.2" stroke-dasharray="1.3 5.5"/>
<line x1="569.68" y1="817.7" x2="569.68" y2="824" stroke="#444" stroke-width="1.1"/>
<line x1="569.68" y1="955.3" x2="569.68" y2="963.8" stroke="#444" stroke-width="1.1"/>
<line x1="630.1" y1="825.7" x2="630.1" y2="955.8" stroke="#333" stroke-opacity="0.75" stroke-width="1.2" stroke-dasharray="1.3 5.5"/>
<line x1="630.1" y1="817.7" x2="630.1" y2="824" stroke="#444" stroke-width="1.1"/>
<line x1="630.1" y1="955.3" x2="630.1" y2="963.8" stroke="#444" stroke-width="1.1"/>
<path d="M201.59 1231.54 A232.27 232.27 0 0 0 58.68 1349.97 L183.46 1413.01 A92.47 92.47 0 0 1 240.36 1365.86 Z" fill="rgba(255,0,0,0.2)" stroke="rgba(255,0,0,0.12)" stroke-width="0.8"/>
<path d="M283.86 1686.81 A232.79 232.79 0 0 0 466.79 1572.5 L345.76 1501.49 A92.47 92.47 0 0 1 273.09 1546.9 Z" fill="rgba(0,128,0,0.2)" stroke="rgba(0,110,0,0.15)" stroke-width="0.8"/>
<path d="M125.91 1294.68 A212.67 212.67 0 0 0 87.44 1339.18 L163.59 1388.45 A121.97 121.97 0 0 1 185.66 1362.92 Z" fill="rgba(255,0,0,0.2)" stroke="rgba(255,0,0,0.12)" stroke-width="0.8"/>
<path d="M140.99 1282.64 A212.67 212.67 0 0 0 128.44 1292.5 L187.11 1361.67 A121.97 121.97 0 0 1 194.31 1356.02 Z" fill="rgba(255,0,0,0.2)" stroke="rgba(255,0,0,0.12)" stroke-width="0.8"/>
<path d="M152.27 1297.01 A194.43 194.43 0 0 0 140.5 1306.2 L167.42 1338.05 A152.73 152.73 0 0 1 176.66 1330.83 Z" fill="rgba(255,0,0,0.2)" stroke="rgba(255,0,0,0.12)" stroke-width="0.8"/>
<path d="M108.11 1341.24 A194.43 194.43 0 0 0 102.57 1349.38 L137.62 1371.97 A152.73 152.73 0 0 1 141.97 1365.58 Z" fill="rgba(255,0,0,0.2)" stroke="rgba(255,0,0,0.12)" stroke-width="0.8"/>
<path d="M212.19 1269.49 A192.87 192.87 0 0 0 193.75 1275.88 L208.67 1312.8 A153.04 153.04 0 0 1 223.3 1307.74 Z" fill="rgba(255,0,0,0.2)" stroke="rgba(255,0,0,0.12)" stroke-width="0.8"/>
<path d="M332.78 1656.62 A212.67 212.67 0 0 0 350.12 1650.03 L314.25 1566.73 A121.97 121.97 0 0 1 304.3 1570.51 Z" fill="rgba(0,128,0,0.2)" stroke="rgba(0,110,0,0.15)" stroke-width="0.8"/>
<path d="M327.03 1637.1 A192.34 192.34 0 0 0 342.39 1631.22 L326.66 1594.87 A152.73 152.73 0 0 1 314.46 1599.54 Z" fill="rgba(0,128,0,0.2)" stroke="rgba(0,110,0,0.15)" stroke-width="0.8"/>
<path d="M320.95 1427.54 A61.3 61.3 0 1 0 326.51 1464.5" fill="none" stroke="#000" stroke-width="2.71"/>
<path d="M353.35 1483.42 A91.95 91.95 0 0 0 353.45 1483.11" fill="none" stroke="#000" stroke-width="2.71"/>
<path d="M356.74 1469.56 A91.95 91.95 0 0 0 356.77 1469.4" fill="none" stroke="#000" stroke-width="2.71"/>
<path d="M350.95 1419.51 A91.95 91.95 0 0 0 329.99 1388.67" fill="none" stroke="#000" stroke-width="2.71"/>
<path d="M306.31 1372.06 A91.95 91.95 0 0 0 261.51 1362.86" fill="none" stroke="#000" stroke-width="2.71"/>
<path d="M248.46 1364.44 A91.95 91.95 0 0 0 247.98 1364.53" fill="none" stroke="#000" stroke-width="2.71"/>
<path d="M204.83 1386.05 A91.95 91.95 0 0 0 174.41 1462.87" fill="none" stroke="#000" stroke-width="2.71"/>
<path d="M178.16 1481.89 A91.95 91.95 0 0 0 178.31 1482.35" fill="none" stroke="#000" stroke-width="2.71"/>
<path d="M182.06 1492.25 A91.95 91.95 0 0 0 182.4 1492.98" fill="none" stroke="#000" stroke-width="2.71"/>
<path d="M201.32 1520.06 A91.95 91.95 0 0 0 317.68 1530.75" fill="none" stroke="#000" stroke-width="2.71"/>
<path d="M375.43 1509.98 A122.6 122.6 0 0 0 375.81 1509.21" fill="none" stroke="#000" stroke-width="2.71"/>
<path d="M382.47 1492.99 A122.6 122.6 0 0 0 382.6 1492.59" fill="none" stroke="#000" stroke-width="2.71"/>
<path d="M386.88 1475.15 A122.6 122.6 0 0 0 386.99 1474.51" fill="none" stroke="#000" stroke-width="2.71"/>
<path d="M381.92 1414.79 A122.6 122.6 0 0 0 361.68 1378.05" fill="none" stroke="#000" stroke-width="2.71"/>
<path d="M351.47 1366.81 A122.6 122.6 0 0 0 351.32 1366.66" fill="none" stroke="#000" stroke-width="2.71"/>
<path d="M321.47 1345.37 A122.6 122.6 0 0 0 319.74 1344.51" fill="none" stroke="#000" stroke-width="2.71"/>
<path d="M294.83 1335.54 A122.6 122.6 0 0 0 294.62 1335.49" fill="none" stroke="#000" stroke-width="2.71"/>
<path d="M274.55 1332.4 A122.6 122.6 0 0 0 272.42 1332.27" fill="none" stroke="#000" stroke-width="2.71"/>
<path d="M260.01 1332.25 A122.6 122.6 0 0 0 259.58 1332.27" fill="none" stroke="#000" stroke-width="2.71"/>
<path d="M241.98 1334.48 A122.6 122.6 0 0 0 241.56 1334.56" fill="none" stroke="#000" stroke-width="2.71"/>
<path d="M208.82 1346.25 A122.6 122.6 0 0 0 160.8 1391.74" fill="none" stroke="#000" stroke-width="2.71"/>
<path d="M145.82 1430.47 A122.6 122.6 0 0 0 145.57 1431.73" fill="none" stroke="#000" stroke-width="2.71"/>
<path d="M148.27 1488.9 A122.6 122.6 0 0 0 148.88 1490.95" fill="none" stroke="#000" stroke-width="2.71"/>
<path d="M154 1504.57 A122.6 122.6 0 0 0 154.53 1505.74" fill="none" stroke="#000" stroke-width="2.71"/>
<path d="M162.95 1521.11 A122.6 122.6 0 0 0 192.56 1552.87" fill="none" stroke="#000" stroke-width="2.71"/>
<path d="M213.03 1565.26 A122.6 122.6 0 0 0 237.8 1574.01" fill="none" stroke="#000" stroke-width="2.71"/>
<path d="M252.33 1576.54 A122.6 122.6 0 0 0 252.55 1576.56" fill="none" stroke="#000" stroke-width="2.71"/>
<path d="M267.28 1577.29 A122.6 122.6 0 0 0 267.71 1577.29" fill="none" stroke="#000" stroke-width="2.71"/>
<path d="M283.49 1576.05 A122.6 122.6 0 0 0 366.67 1524.67" fill="none" stroke="#000" stroke-width="2.71"/>
<g fill="none" stroke="#000" stroke-opacity="0.72" stroke-width="1.41">
<path d="M235.35 1454.7L204.7 1454.7"/>
<path d="M320.91 1481.96L348.36 1495.58"/>
<path d="M324.3 1473.64L353.45 1483.11"/>
<path d="M326.51 1464.5L356.77 1469.4"/>
<path d="M320.95 1427.54L348.43 1413.96"/>
<path d="M280.41 1395.12L287.62 1365.33"/>
<path d="M254.3 1394.53L248.46 1364.44"/>
<path d="M212.44 1424.89L185.66 1409.98"/>
<path d="M207.54 1473.13L178.31 1482.35"/>
<path d="M210.04 1479.73L182.06 1492.25"/>
<path d="M268.14 1515.96L269.21 1546.59"/>
<path d="M348.36 1495.58L375.81 1509.21"/>
<path d="M353.35 1483.42L382.47 1492.99"/>
<path d="M356.74 1469.56L386.99 1474.51"/>
<path d="M350.95 1419.51L379.27 1407.78"/>
<path d="M329.99 1388.67L351.32 1366.66"/>
<path d="M306.31 1372.06L319.74 1344.51"/>
<path d="M287.62 1365.33L294.83 1335.54"/>
<path d="M270.81 1362.88L272.42 1332.27"/>
<path d="M261.51 1362.86L260.01 1332.25"/>
<path d="M247.98 1364.53L241.98 1334.48"/>
<path d="M204.83 1386.05L184.44 1363.16"/>
<path d="M175.68 1437.47L145.57 1431.73"/>
<path d="M174.41 1462.87L143.89 1465.6"/>
<path d="M178.16 1481.89L148.88 1490.95"/>
<path d="M182.4 1492.98L154.53 1505.74"/>
<path d="M201.32 1520.06L179.76 1541.84"/>
<path d="M235.46 1541.43L225.28 1570.34"/>
<path d="M255.91 1546.09L252.55 1576.56"/>
<path d="M267.28 1546.64L267.71 1577.29"/>
<path d="M317.68 1530.75L334.91 1556.1"/>
<path d="M375.43 1509.98L402.79 1523.8"/>
<path d="M382.6 1492.59L411.75 1502.06"/>
<path d="M386.88 1475.15L417.1 1480.26"/>
<path d="M381.92 1414.79L392.15 1367.68"/>
<path d="M381.92 1414.79L394.82 1371.68"/>
<path d="M381.92 1414.79L397.36 1375.77"/>
<path d="M381.92 1414.79L399.78 1379.94"/>
<path d="M381.92 1414.79L402.06 1384.17"/>
<path d="M381.92 1414.79L404.21 1388.48"/>
<path d="M381.92 1414.79L406.22 1392.86"/>
<path d="M381.92 1414.79L408.09 1397.29"/>
<path d="M381.92 1414.79L409.82 1401.78"/>
<path d="M381.92 1414.79L411.42 1406.33"/>
<path d="M381.92 1414.79L412.86 1410.92"/>
<path d="M381.92 1414.79L414.17 1415.55"/>
<path d="M381.92 1414.79L415.32 1420.23"/>
<path d="M381.92 1414.79L416.33 1424.93"/>
<path d="M381.92 1414.79L417.19 1429.67"/>
<path d="M381.92 1414.79L417.9 1434.43"/>
<path d="M381.92 1414.79L418.47 1439.21"/>
<path d="M381.92 1414.79L418.88 1444.01"/>
<path d="M381.92 1414.79L419.14 1448.82"/>
<path d="M361.68 1378.05L385.77 1359.09"/>
<path d="M351.47 1366.81L372.65 1344.65"/>
<path d="M321.47 1345.37L317.41 1310.33"/>
<path d="M321.47 1345.37L322.66 1312.31"/>
<path d="M321.47 1345.37L327.84 1314.48"/>
<path d="M321.47 1345.37L333.18 1316.96"/>
<path d="M321.47 1345.37L338.18 1319.51"/>
<path d="M321.47 1345.37L343.55 1322.52"/>
<path d="M321.47 1345.37L348.79 1325.74"/>
<path d="M321.47 1345.37L353.68 1329.01"/>
<path d="M294.62 1335.49L301.52 1305.62"/>
<path d="M274.55 1332.4L274.55 1301.69"/>
<path d="M274.55 1332.4L280.69 1302.16"/>
<path d="M259.58 1332.27L258.51 1301.63"/>
<path d="M241.56 1334.56L237.28 1304.16"/>
<path d="M208.82 1346.25L210.83 1311.72"/>
<path d="M208.82 1346.25L205.38 1313.95"/>
<path d="M208.82 1346.25L200.02 1316.38"/>
<path d="M208.82 1346.25L195.24 1318.77"/>
<path d="M208.82 1346.25L191 1321.06"/>
<path d="M208.82 1346.25L187.53 1323.06"/>
<path d="M208.82 1346.25L184.34 1325.02"/>
<path d="M208.82 1346.25L180.08 1327.8"/>
<path d="M171.67 1376.39L159.54 1344.46"/>
<path d="M171.67 1376.39L156.69 1347.29"/>
<path d="M171.67 1376.39L153.92 1350.18"/>
<path d="M171.67 1376.39L151.22 1353.15"/>
<path d="M171.67 1376.39L148.6 1356.19"/>
<path d="M171.67 1376.39L145.9 1359.51"/>
<path d="M171.67 1376.39L143.29 1362.9"/>
<path d="M160.8 1391.74L134.64 1375.77"/>
<path d="M145.82 1430.47L124.62 1395.56"/>
<path d="M145.82 1430.47L122.64 1400.53"/>
<path d="M145.82 1430.47L120.5 1406.58"/>
<path d="M145.82 1430.47L118.91 1411.69"/>
<path d="M145.82 1430.47L117.43 1417.11"/>
<path d="M145.82 1430.47L116.04 1423.1"/>
<path d="M145.82 1430.47L115.03 1428.35"/>
<path d="M145.82 1430.47L114.06 1434.7"/>
<path d="M145.82 1430.47L113.43 1440.28"/>
<path d="M145.82 1430.47L113 1445.88"/>
<path d="M145.82 1430.47L112.78 1451.76"/>
<path d="M143.89 1465.6L113.31 1467.79"/>
<path d="M148.27 1488.9L117.63 1493.07"/>
<path d="M148.27 1488.9L119.29 1498.99"/>
<path d="M154 1504.57L126.33 1517.76"/>
<path d="M162.95 1521.11L137.33 1537.94"/>
<path d="M169.52 1530.35L145.57 1549.47"/>
<path d="M180.68 1542.74L156.32 1561.73"/>
<path d="M180.68 1542.74L160.9 1566.23"/>
<path d="M192.56 1552.87L171.23 1575.13"/>
<path d="M192.56 1552.87L175.71 1578.52"/>
<path d="M213.03 1565.26L191.47 1588.61"/>
<path d="M213.03 1565.26L194.05 1590.01"/>
<path d="M213.03 1565.26L196.9 1591.49"/>
<path d="M213.03 1565.26L201.72 1593.82"/>
<path d="M213.03 1565.26L207.35 1596.28"/>
<path d="M227.3 1571.03L216.87 1599.86"/>
<path d="M237.8 1574.01L230.74 1603.84"/>
<path d="M252.33 1576.54L249.18 1607.02"/>
<path d="M267.28 1577.29L268.14 1607.94"/>
<path d="M283.49 1576.05L287.06 1606.5"/>
<path d="M299.38 1572.67L304.37 1603.07"/>
<path d="M299.38 1572.67L309.27 1601.71"/>
<path d="M323.75 1562.85L335.1 1591.49"/>
<path d="M323.75 1562.85L340.06 1588.86"/>
<path d="M332.77 1557.52L349.69 1583.08"/>
<path d="M345.78 1547.79L362.44 1573.8"/>
<path d="M345.78 1547.79L367.15 1569.83"/>
<path d="M356.82 1537.05L376.98 1560.38"/>
<path d="M356.82 1537.05L380.78 1556.25"/>
<path d="M366.67 1524.67L389.19 1545.86"/>
<path d="M366.67 1524.67L392.75 1540.84"/>
</g>
<path d="M171.67 1376.39L140.46 1366.8" stroke="#5a0000" stroke-width="4.38" stroke-linecap="round"/>
<path d="M171.67 1376.39L140.46 1366.8" stroke="#ff0000" stroke-width="2.92" stroke-linecap="round"/>
<path d="M190.52 1358.09L171.65 1333.94" stroke="#5a0000" stroke-width="4.38" stroke-linecap="round"/>
<path d="M190.52 1358.09L171.65 1333.94" stroke="#ff0000" stroke-width="2.92" stroke-linecap="round"/>
<path d="M309.14 1569.46L319.17 1598.43" stroke="#003300" stroke-width="4.38" stroke-linecap="round"/>
<path d="M309.14 1569.46L319.17 1598.43" stroke="#008000" stroke-width="2.92" stroke-linecap="round"/>
<circle cx="266" cy="1454.7" r="0.94" fill="#c6c808"/>
<circle cx="235.35" cy="1454.7" r="5.84" fill="#c6c808" stroke="#5e5e00" stroke-width="0.7"/>
<circle cx="320.91" cy="1481.96" r="2.09" fill="#c6c808" stroke="#5e5e00" stroke-width="0.7"/>
<circle cx="324.3" cy="1473.64" r="2.09" fill="#c6c808" stroke="#5e5e00" stroke-width="0.7"/>
<circle cx="326.51" cy="1464.5" r="2.09" fill="#c6c808" stroke="#5e5e00" stroke-width="0.7"/>
<circle cx="320.95" cy="1427.54" r="5.42" fill="#c6c808" stroke="#5e5e00" stroke-width="0.7"/>
<circle cx="280.41" cy="1395.12" r="5.53" fill="#c6c808" stroke="#5e5e00" stroke-width="0.7"/>
<circle cx="254.3" cy="1394.53" r="3.02" fill="#c6c808" stroke="#5e5e00" stroke-width="0.7"/>
<circle cx="212.44" cy="1424.89" r="6.05" fill="#c6c808" stroke="#5e5e00" stroke-width="0.7"/>
<circle cx="207.54" cy="1473.13" r="4.07" fill="#c6c808" stroke="#5e5e00" stroke-width="0.7"/>
<circle cx="210.04" cy="1479.73" r="1.88" fill="#c6c808" stroke="#5e5e00" stroke-width="0.7"/>
<circle cx="268.14" cy="1515.96" r="6.05" fill="#c6c808" stroke="#5e5e00" stroke-width="0.7"/>
<circle cx="348.36" cy="1495.58" r="2.09" fill="#c6c808" stroke="#5e5e00" stroke-width="0.7"/>
<circle cx="353.35" cy="1483.42" r="2.09" fill="#c6c808" stroke="#5e5e00" stroke-width="0.7"/>
<circle cx="356.74" cy="1469.56" r="2.09" fill="#c6c808" stroke="#5e5e00" stroke-width="0.7"/>
<circle cx="350.95" cy="1419.51" r="4.9" fill="#c6c808" stroke="#5e5e00" stroke-width="0.7"/>
<circle cx="329.99" cy="1388.67" r="3.96" fill="#c6c808" stroke="#5e5e00" stroke-width="0.7"/>
<circle cx="306.31" cy="1372.06" r="4.8" fill="#c6c808" stroke="#5e5e00" stroke-width="0.7"/>
<circle cx="287.62" cy="1365.33" r="2.61" fill="#c6c808" stroke="#5e5e00" stroke-width="0.7"/>
<circle cx="270.81" cy="1362.88" r="3.65" fill="#c6c808" stroke="#5e5e00" stroke-width="0.7"/>
<circle cx="261.51" cy="1362.86" r="5.21" fill="#c6c808" stroke="#5e5e00" stroke-width="0.7"/>
<circle cx="247.98" cy="1364.53" r="3.13" fill="#c6c808" stroke="#5e5e00" stroke-width="0.7"/>
<circle cx="204.83" cy="1386.05" r="5.21" fill="#ff0000" stroke="#5a0000" stroke-width="0.9"/>
<circle cx="175.68" cy="1437.47" r="4.27" fill="#c6c808" stroke="#5e5e00" stroke-width="0.7"/>
<circle cx="174.41" cy="1462.87" r="3.65" fill="#c6c808" stroke="#5e5e00" stroke-width="0.7"/>
<circle cx="178.16" cy="1481.89" r="3.96" fill="#c6c808" stroke="#5e5e00" stroke-width="0.7"/>
<circle cx="182.4" cy="1492.98" r="1.98" fill="#c6c808" stroke="#5e5e00" stroke-width="0.7"/>
<circle cx="201.32" cy="1520.06" r="5" fill="#c6c808" stroke="#5e5e00" stroke-width="0.7"/>
<circle cx="235.46" cy="1541.43" r="4.69" fill="#c6c808" stroke="#5e5e00" stroke-width="0.7"/>
<circle cx="255.91" cy="1546.09" r="1.98" fill="#c6c808" stroke="#5e5e00" stroke-width="0.7"/>
<circle cx="267.28" cy="1546.64" r="3.34" fill="#c6c808" stroke="#5e5e00" stroke-width="0.7"/>
<circle cx="317.68" cy="1530.75" r="5.84" fill="#008000" stroke="#003300" stroke-width="0.9"/>
<circle cx="375.43" cy="1509.98" r="2.09" fill="#c6c808" stroke="#5e5e00" stroke-width="0.7"/>
<circle cx="382.6" cy="1492.59" r="2.09" fill="#c6c808" stroke="#5e5e00" stroke-width="0.7"/>
<circle cx="386.88" cy="1475.15" r="2.09" fill="#c6c808" stroke="#5e5e00" stroke-width="0.7"/>
<circle cx="381.92" cy="1414.79" r="4.9" fill="#c6c808" stroke="#5e5e00" stroke-width="0.7"/>
<circle cx="361.68" cy="1378.05" r="2.09" fill="#c6c808" stroke="#5e5e00" stroke-width="0.7"/>
<circle cx="351.47" cy="1366.81" r="3.96" fill="#c6c808" stroke="#5e5e00" stroke-width="0.7"/>
<circle cx="321.47" cy="1345.37" r="4.8" fill="#c6c808" stroke="#5e5e00" stroke-width="0.7"/>
<circle cx="294.62" cy="1335.49" r="3.13" fill="#c6c808" stroke="#5e5e00" stroke-width="0.7"/>
<circle cx="274.55" cy="1332.4" r="4.17" fill="#c6c808" stroke="#5e5e00" stroke-width="0.7"/>
<circle cx="259.58" cy="1332.27" r="5.21" fill="#c6c808" stroke="#5e5e00" stroke-width="0.7"/>
<circle cx="241.56" cy="1334.56" r="3.13" fill="#c6c808" stroke="#5e5e00" stroke-width="0.7"/>
<circle cx="208.82" cy="1346.25" r="5.73" fill="#c6c808" stroke="#5e5e00" stroke-width="0.7"/>
<circle cx="190.52" cy="1358.09" r="4.69" fill="#ff0000" stroke="#5a0000" stroke-width="0.9"/>
<circle cx="171.67" cy="1376.39" r="5.21" fill="#ff0000" stroke="#5a0000" stroke-width="0.9"/>
<circle cx="160.8" cy="1391.74" r="1.98" fill="#c6c808" stroke="#5e5e00" stroke-width="0.7"/>
<circle cx="145.82" cy="1430.47" r="4.48" fill="#c6c808" stroke="#5e5e00" stroke-width="0.7"/>
<circle cx="143.89" cy="1465.6" r="3.65" fill="#c6c808" stroke="#5e5e00" stroke-width="0.7"/>
<circle cx="148.27" cy="1488.9" r="3.96" fill="#c6c808" stroke="#5e5e00" stroke-width="0.7"/>
<circle cx="154" cy="1504.57" r="1.98" fill="#c6c808" stroke="#5e5e00" stroke-width="0.7"/>
<circle cx="162.95" cy="1521.11" r="4.17" fill="#c6c808" stroke="#5e5e00" stroke-width="0.7"/>
<circle cx="169.52" cy="1530.35" r="4.17" fill="#c6c808" stroke="#5e5e00" stroke-width="0.7"/>
<circle cx="180.68" cy="1542.74" r="4.69" fill="#c6c808" stroke="#5e5e00" stroke-width="0.7"/>
<circle cx="192.56" cy="1552.87" r="4.69" fill="#c6c808" stroke="#5e5e00" stroke-width="0.7"/>
<circle cx="213.03" cy="1565.26" r="4.48" fill="#c6c808" stroke="#5e5e00" stroke-width="0.7"/>
<circle cx="227.3" cy="1571.03" r="4.38" fill="#c6c808" stroke="#5e5e00" stroke-width="0.7"/>
<circle cx="237.8" cy="1574.01" r="4.48" fill="#c6c808" stroke="#5e5e00" stroke-width="0.7"/>
<circle cx="252.33" cy="1576.54" r="1.98" fill="#c6c808" stroke="#5e5e00" stroke-width="0.7"/>
<circle cx="267.28" cy="1577.29" r="3.54" fill="#c6c808" stroke="#5e5e00" stroke-width="0.7"/>
<circle cx="283.49" cy="1576.05" r="4.17" fill="#c6c808" stroke="#5e5e00" stroke-width="0.7"/>
<circle cx="299.38" cy="1572.67" r="3.13" fill="#c6c808" stroke="#5e5e00" stroke-width="0.7"/>
<circle cx="309.14" cy="1569.46" r="5.53" fill="#008000" stroke="#003300" stroke-width="0.9"/>
<circle cx="323.75" cy="1562.85" r="3.44" fill="#c6c808" stroke="#5e5e00" stroke-width="0.7"/>
<circle cx="332.77" cy="1557.52" r="4.69" fill="#c6c808" stroke="#5e5e00" stroke-width="0.7"/>
<circle cx="345.78" cy="1547.79" r="4.69" fill="#c6c808" stroke="#5e5e00" stroke-width="0.7"/>
<circle cx="356.82" cy="1537.05" r="3.65" fill="#c6c808" stroke="#5e5e00" stroke-width="0.7"/>
<circle cx="366.67" cy="1524.67" r="4.17" fill="#c6c808" stroke="#5e5e00" stroke-width="0.7"/>
<circle cx="402.79" cy="1523.8" r="2.09" fill="#c6c808" stroke="#5e5e00" stroke-width="0.7"/>
<circle cx="411.75" cy="1502.06" r="2.09" fill="#c6c808" stroke="#5e5e00" stroke-width="0.7"/>
<circle cx="417.1" cy="1480.26" r="2.09" fill="#c6c808" stroke="#5e5e00" stroke-width="0.7"/>
<circle cx="392.15" cy="1367.68" r="3.75" fill="#c6c808" stroke="#5e5e00" stroke-width="0.7"/>
<circle cx="394.82" cy="1371.68" r="3.13" fill="#c6c808" stroke="#5e5e00" stroke-width="0.7"/>
<circle cx="397.36" cy="1375.77" r="3.54" fill="#c6c808" stroke="#5e5e00" stroke-width="0.7"/>
<circle cx="399.78" cy="1379.94" r="3.96" fill="#c6c808" stroke="#5e5e00" stroke-width="0.7"/>
<circle cx="402.06" cy="1384.17" r="3.34" fill="#c6c808" stroke="#5e5e00" stroke-width="0.7"/>
<circle cx="404.21" cy="1388.48" r="3.75" fill="#c6c808" stroke="#5e5e00" stroke-width="0.7"/>
<circle cx="406.22" cy="1392.86" r="3.13" fill="#c6c808" stroke="#5e5e00" stroke-width="0.7"/>
<circle cx="408.09" cy="1397.29" r="3.54" fill="#c6c808" stroke="#5e5e00" stroke-width="0.7"/>
<circle cx="409.82" cy="1401.78" r="3.96" fill="#c6c808" stroke="#5e5e00" stroke-width="0.7"/>
<circle cx="411.42" cy="1406.33" r="3.34" fill="#c6c808" stroke="#5e5e00" stroke-width="0.7"/>
<circle cx="412.86" cy="1410.92" r="3.75" fill="#c6c808" stroke="#5e5e00" stroke-width="0.7"/>
<circle cx="414.17" cy="1415.55" r="3.13" fill="#c6c808" stroke="#5e5e00" stroke-width="0.7"/>
<circle cx="415.32" cy="1420.23" r="3.54" fill="#c6c808" stroke="#5e5e00" stroke-width="0.7"/>
<circle cx="416.33" cy="1424.93" r="3.96" fill="#c6c808" stroke="#5e5e00" stroke-width="0.7"/>
<circle cx="417.19" cy="1429.67" r="3.34" fill="#c6c808" stroke="#5e5e00" stroke-width="0.7"/>
<circle cx="417.9" cy="1434.43" r="3.75" fill="#c6c808" stroke="#5e5e00" stroke-width="0.7"/>
<circle cx="418.47" cy="1439.21" r="3.13" fill="#c6c808" stroke="#5e5e00" stroke-width="0.7"/>
<circle cx="418.88" cy="1444.01" r="3.54" fill="#c6c808" stroke="#5e5e00" stroke-width="0.7"/>
<circle cx="419.14" cy="1448.82" r="3.96" fill="#c6c808" stroke="#5e5e00" stroke-width="0.7"/>
<circle cx="385.77" cy="1359.09" r="2.09" fill="#c6c808" stroke="#5e5e00" stroke-width="0.7"/>
<circle cx="372.65" cy="1344.65" r="3.65" fill="#c6c808" stroke="#5e5e00" stroke-width="0.7"/>
<circle cx="317.41" cy="1310.33" r="4.07" fill="#c6c808" stroke="#5e5e00" stroke-width="0.7"/>
<circle cx="322.66" cy="1312.31" r="2.09" fill="#c6c808" stroke="#5e5e00" stroke-width="0.7"/>
<circle cx="327.84" cy="1314.48" r="2.09" fill="#c6c808" stroke="#5e5e00" stroke-width="0.7"/>
<circle cx="333.18" cy="1316.96" r="2.09" fill="#c6c808" stroke="#5e5e00" stroke-width="0.7"/>
<circle cx="338.18" cy="1319.51" r="3.34" fill="#c6c808" stroke="#5e5e00" stroke-width="0.7"/>
<circle cx="343.55" cy="1322.52" r="3.65" fill="#c6c808" stroke="#5e5e00" stroke-width="0.7"/>
<circle cx="348.79" cy="1325.74" r="3.13" fill="#c6c808" stroke="#5e5e00" stroke-width="0.7"/>
<circle cx="353.68" cy="1329.01" r="3.44" fill="#c6c808" stroke="#5e5e00" stroke-width="0.7"/>
<circle cx="301.52" cy="1305.62" r="3.13" fill="#c6c808" stroke="#5e5e00" stroke-width="0.7"/>
<circle cx="274.55" cy="1301.69" r="3.65" fill="#c6c808" stroke="#5e5e00" stroke-width="0.7"/>
<circle cx="280.69" cy="1302.16" r="3.65" fill="#c6c808" stroke="#5e5e00" stroke-width="0.7"/>
<circle cx="258.51" cy="1301.63" r="4.9" fill="#c6c808" stroke="#5e5e00" stroke-width="0.7"/>
<circle cx="237.28" cy="1304.16" r="3.13" fill="#c6c808" stroke="#5e5e00" stroke-width="0.7"/>
<circle cx="210.83" cy="1311.72" r="4.69" fill="#ff0000" stroke="#5a0000" stroke-width="0.9"/>
<circle cx="205.38" cy="1313.95" r="4.17" fill="#c6c808" stroke="#5e5e00" stroke-width="0.7"/>
<circle cx="200.02" cy="1316.38" r="5.21" fill="#c6c808" stroke="#5e5e00" stroke-width="0.7"/>
<circle cx="195.24" cy="1318.77" r="4.69" fill="#c6c808" stroke="#5e5e00" stroke-width="0.7"/>
<circle cx="191" cy="1321.06" r="4.17" fill="#c6c808" stroke="#5e5e00" stroke-width="0.7"/>
<circle cx="187.53" cy="1323.06" r="3.13" fill="#c6c808" stroke="#5e5e00" stroke-width="0.7"/>
<circle cx="184.34" cy="1325.02" r="2.09" fill="#c6c808" stroke="#5e5e00" stroke-width="0.7"/>
<circle cx="180.08" cy="1327.8" r="3.13" fill="#c6c808" stroke="#5e5e00" stroke-width="0.7"/>
<circle cx="171.65" cy="1333.94" r="4.8" fill="#ff0000" stroke="#5a0000" stroke-width="0.9"/>
<circle cx="159.54" cy="1344.46" r="4.17" fill="#c6c808" stroke="#5e5e00" stroke-width="0.7"/>
<circle cx="156.69" cy="1347.29" r="4.17" fill="#c6c808" stroke="#5e5e00" stroke-width="0.7"/>
<circle cx="153.92" cy="1350.18" r="4.17" fill="#c6c808" stroke="#5e5e00" stroke-width="0.7"/>
<circle cx="151.22" cy="1353.15" r="4.69" fill="#c6c808" stroke="#5e5e00" stroke-width="0.7"/>
<circle cx="148.6" cy="1356.19" r="4.69" fill="#c6c808" stroke="#5e5e00" stroke-width="0.7"/>
<circle cx="145.9" cy="1359.51" r="4.17" fill="#c6c808" stroke="#5e5e00" stroke-width="0.7"/>
<circle cx="143.29" cy="1362.9" r="4.17" fill="#c6c808" stroke="#5e5e00" stroke-width="0.7"/>
<circle cx="140.46" cy="1366.8" r="5.21" fill="#ff0000" stroke="#5a0000" stroke-width="0.9"/>
<circle cx="134.64" cy="1375.77" r="2.09" fill="#c6c808" stroke="#5e5e00" stroke-width="0.7"/>
<circle cx="124.62" cy="1395.56" r="2.61" fill="#c6c808" stroke="#5e5e00" stroke-width="0.7"/>
<circle cx="122.64" cy="1400.53" r="4.69" fill="#c6c808" stroke="#5e5e00" stroke-width="0.7"/>
<circle cx="120.5" cy="1406.58" r="2.09" fill="#c6c808" stroke="#5e5e00" stroke-width="0.7"/>
<circle cx="118.91" cy="1411.69" r="2.09" fill="#c6c808" stroke="#5e5e00" stroke-width="0.7"/>
<circle cx="117.43" cy="1417.11" r="4.17" fill="#c6c808" stroke="#5e5e00" stroke-width="0.7"/>
<circle cx="116.04" cy="1423.1" r="2.09" fill="#c6c808" stroke="#5e5e00" stroke-width="0.7"/>
<circle cx="115.03" cy="1428.35" r="3.65" fill="#c6c808" stroke="#5e5e00" stroke-width="0.7"/>
<circle cx="114.06" cy="1434.7" r="3.65" fill="#c6c808" stroke="#5e5e00" stroke-width="0.7"/>
<circle cx="113.43" cy="1440.28" r="3.65" fill="#c6c808" stroke="#5e5e00" stroke-width="0.7"/>
<circle cx="113" cy="1445.88" r="3.65" fill="#c6c808" stroke="#5e5e00" stroke-width="0.7"/>
<circle cx="112.78" cy="1451.76" r="3.65" fill="#c6c808" stroke="#5e5e00" stroke-width="0.7"/>
<circle cx="113.31" cy="1467.79" r="3.65" fill="#c6c808" stroke="#5e5e00" stroke-width="0.7"/>
<circle cx="117.63" cy="1493.07" r="3.65" fill="#c6c808" stroke="#5e5e00" stroke-width="0.7"/>
<circle cx="119.29" cy="1498.99" r="3.65" fill="#c6c808" stroke="#5e5e00" stroke-width="0.7"/>
<circle cx="126.33" cy="1517.76" r="2.09" fill="#c6c808" stroke="#5e5e00" stroke-width="0.7"/>
<circle cx="137.33" cy="1537.94" r="4.17" fill="#c6c808" stroke="#5e5e00" stroke-width="0.7"/>
<circle cx="145.57" cy="1549.47" r="4.17" fill="#c6c808" stroke="#5e5e00" stroke-width="0.7"/>
<circle cx="156.32" cy="1561.73" r="3.13" fill="#c6c808" stroke="#5e5e00" stroke-width="0.7"/>
<circle cx="160.9" cy="1566.23" r="4.17" fill="#c6c808" stroke="#5e5e00" stroke-width="0.7"/>
<circle cx="171.23" cy="1575.13" r="3.65" fill="#c6c808" stroke="#5e5e00" stroke-width="0.7"/>
<circle cx="175.71" cy="1578.52" r="4.69" fill="#c6c808" stroke="#5e5e00" stroke-width="0.7"/>
<circle cx="191.47" cy="1588.61" r="2.09" fill="#c6c808" stroke="#5e5e00" stroke-width="0.7"/>
<circle cx="194.05" cy="1590.01" r="3.65" fill="#c6c808" stroke="#5e5e00" stroke-width="0.7"/>
<circle cx="196.9" cy="1591.49" r="3.65" fill="#c6c808" stroke="#5e5e00" stroke-width="0.7"/>
<circle cx="201.72" cy="1593.82" r="3.65" fill="#c6c808" stroke="#5e5e00" stroke-width="0.7"/>
<circle cx="207.35" cy="1596.28" r="4.17" fill="#c6c808" stroke="#5e5e00" stroke-width="0.7"/>
<circle cx="216.87" cy="1599.86" r="4.17" fill="#c6c808" stroke="#5e5e00" stroke-width="0.7"/>
<circle cx="230.74" cy="1603.84" r="4.17" fill="#c6c808" stroke="#5e5e00" stroke-width="0.7"/>
<circle cx="249.18" cy="1607.02" r="2.09" fill="#c6c808" stroke="#5e5e00" stroke-width="0.7"/>
<circle cx="268.14" cy="1607.94" r="3.65" fill="#c6c808" stroke="#5e5e00" stroke-width="0.7"/>
<circle cx="287.06" cy="1606.5" r="4.17" fill="#c6c808" stroke="#5e5e00" stroke-width="0.7"/>
<circle cx="304.37" cy="1603.07" r="3.13" fill="#c6c808" stroke="#5e5e00" stroke-width="0.7"/>
<circle cx="309.27" cy="1601.71" r="3.65" fill="#c6c808" stroke="#5e5e00" stroke-width="0.7"/>
<circle cx="319.17" cy="1598.43" r="5.21" fill="#008000" stroke="#003300" stroke-width="0.9"/>
<circle cx="335.1" cy="1591.49" r="2.61" fill="#c6c808" stroke="#5e5e00" stroke-width="0.7"/>
<circle cx="340.06" cy="1588.86" r="3.65" fill="#c6c808" stroke="#5e5e00" stroke-width="0.7"/>
<circle cx="349.69" cy="1583.08" r="4.17" fill="#c6c808" stroke="#5e5e00" stroke-width="0.7"/>
<circle cx="362.44" cy="1573.8" r="4.17" fill="#c6c808" stroke="#5e5e00" stroke-width="0.7"/>
<circle cx="367.15" cy="1569.83" r="3.65" fill="#c6c808" stroke="#5e5e00" stroke-width="0.7"/>
<circle cx="376.98" cy="1560.38" r="2.09" fill="#c6c808" stroke="#5e5e00" stroke-width="0.7"/>
<circle cx="380.78" cy="1556.25" r="3.65" fill="#c6c808" stroke="#5e5e00" stroke-width="0.7"/>
<circle cx="389.19" cy="1545.86" r="3.13" fill="#c6c808" stroke="#5e5e00" stroke-width="0.7"/>
<circle cx="392.75" cy="1540.84" r="3.65" fill="#c6c808" stroke="#5e5e00" stroke-width="0.7"/>
<text x="122.36" y="1282.91" transform="rotate(-39.9 122.36 1282.91)" font-size="11.05" text-anchor="middle" dominant-baseline="central" fill="#222" stroke="#222" stroke-width="0.3" textLength="41.7" lengthAdjust="spacingAndGlyphs">c__Bacilli</text>
<text x="384.44" y="1644.99" transform="rotate(148.1 384.44 1644.99)" font-size="11.26" text-anchor="middle" dominant-baseline="central" fill="#222" stroke="#222" stroke-width="0.3" textLength="119.89" lengthAdjust="spacingAndGlyphs">c__Gammaproteobacteria</text>
<text x="205.96" y="1281.32" transform="rotate(-19.1 205.96 1281.32)" font-size="10.63" text-anchor="middle" dominant-baseline="central" fill="#222" stroke="#222" stroke-width="0.3">a</text>
<text x="153.04" y="1310.11" transform="rotate(-38 153.04 1310.11)" font-size="10.63" text-anchor="middle" dominant-baseline="central" fill="#222" stroke="#222" stroke-width="0.3">b</text>
<text x="140.1" y="1294.42" transform="rotate(-38.15 140.1 1294.42)" font-size="10.63" text-anchor="middle" dominant-baseline="central" fill="#222" stroke="#222" stroke-width="0.3">c</text>
<text x="114.33" y="1351.43" transform="rotate(-55.75 114.33 1351.43)" font-size="10.63" text-anchor="middle" dominant-baseline="central" fill="#222" stroke="#222" stroke-width="0.3">d</text>
<text x="111.83" y="1321.39" transform="rotate(-49.15 111.83 1321.39)" font-size="10.63" text-anchor="middle" dominant-baseline="central" fill="#222" stroke="#222" stroke-width="0.3">e</text>
<text x="331.46" y="1626.11" transform="rotate(159.1 331.46 1626.11)" font-size="10.63" text-anchor="middle" dominant-baseline="central" fill="#222" stroke="#222" stroke-width="0.3">f</text>
<text x="338.38" y="1645.23" transform="rotate(159.2 338.38 1645.23)" font-size="10.63" text-anchor="middle" dominant-baseline="central" fill="#222" stroke="#222" stroke-width="0.3">g</text>
<rect x="43.9" y="1233.9" width="27.7" height="9.8" fill="#ff0000" stroke="#111" stroke-width="1.3"/>
<text x="81.8" y="1243.7" font-size="15.2" fill="#222" textLength="67.4" lengthAdjust="spacingAndGlyphs">colostrum</text>
<rect x="43.9" y="1253.5" width="27.7" height="9.8" fill="#007f00" stroke="#111" stroke-width="1.3"/>
<text x="81.8" y="1263.3" font-size="15.2" fill="#222" textLength="57.6" lengthAdjust="spacingAndGlyphs">placenta</text>
<rect x="526.4" y="1225.7" width="19.9" height="6.8" fill="#ff0000" stroke="#111" stroke-width="0.9"/>
<text x="553.3" y="1232.4" font-size="9.3" fill="#333" textLength="80" lengthAdjust="spacingAndGlyphs">a: f__Bacillaceae</text>
<rect x="526.4" y="1239.93" width="19.9" height="6.8" fill="#ff0000" stroke="#111" stroke-width="0.9"/>
<text x="553.3" y="1246.63" font-size="9.3" fill="#333" textLength="88.3" lengthAdjust="spacingAndGlyphs">b: f__Gemellaceae</text>
<rect x="526.4" y="1254.16" width="19.9" height="6.8" fill="#ff0000" stroke="#111" stroke-width="0.9"/>
<text x="553.3" y="1260.86" font-size="9.3" fill="#333" textLength="80.9" lengthAdjust="spacingAndGlyphs">c: o__Gemellales</text>
<rect x="526.4" y="1268.39" width="19.9" height="6.8" fill="#ff0000" stroke="#111" stroke-width="0.9"/>
<text x="553.3" y="1275.09" font-size="9.3" fill="#333" textLength="111.1" lengthAdjust="spacingAndGlyphs">d: f__Streptococcaceae</text>
<rect x="526.4" y="1282.62" width="19.9" height="6.8" fill="#ff0000" stroke="#111" stroke-width="0.9"/>
<text x="553.3" y="1289.32" font-size="9.3" fill="#333" textLength="98.7" lengthAdjust="spacingAndGlyphs">e: o__Lactobacillales</text>
<rect x="526.4" y="1296.85" width="19.9" height="6.8" fill="#007f00" stroke="#111" stroke-width="0.9"/>
<text x="553.3" y="1303.55" font-size="9.3" fill="#333" textLength="115.9" lengthAdjust="spacingAndGlyphs">f: f__Enterobacteriaceae</text>
<rect x="526.4" y="1311.08" width="19.9" height="6.8" fill="#007f00" stroke="#111" stroke-width="0.9"/>
<text x="553.3" y="1317.78" font-size="9.3" fill="#333" textLength="112" lengthAdjust="spacingAndGlyphs">g: o__Enterobacteriales</text>
<rect x="52.5" y="1889.3" width="36" height="12.3" fill="#ff0000" stroke="#000" stroke-width="1"/>
<text x="99.5" y="1902" font-size="19.5" fill="#222" textLength="85.5" lengthAdjust="spacingAndGlyphs">colostrum</text>
<rect x="219.9" y="1889.3" width="36" height="12.3" fill="#007f00" stroke="#000" stroke-width="1"/>
<text x="266.9" y="1902" font-size="19.5" fill="#222" textLength="73" lengthAdjust="spacingAndGlyphs">placenta</text>
<text x="46.2" y="2084.6" font-size="19.6" text-anchor="middle" fill="#111" textLength="47" lengthAdjust="spacingAndGlyphs">−6.0</text>
<text x="107.4" y="2084.6" font-size="19.6" text-anchor="middle" fill="#111" textLength="47" lengthAdjust="spacingAndGlyphs">−4.8</text>
<text x="168.6" y="2084.6" font-size="19.6" text-anchor="middle" fill="#111" textLength="47" lengthAdjust="spacingAndGlyphs">−3.6</text>
<text x="229.8" y="2084.6" font-size="19.6" text-anchor="middle" fill="#111" textLength="47" lengthAdjust="spacingAndGlyphs">−2.4</text>
<text x="291" y="2084.6" font-size="19.6" text-anchor="middle" fill="#111" textLength="47" lengthAdjust="spacingAndGlyphs">−1.2</text>
<text x="352.2" y="2084.6" font-size="19.6" text-anchor="middle" fill="#111" textLength="37" lengthAdjust="spacingAndGlyphs">0.0</text>
<text x="413.4" y="2084.6" font-size="19.6" text-anchor="middle" fill="#111" textLength="37" lengthAdjust="spacingAndGlyphs">1.2</text>
<text x="474.6" y="2084.6" font-size="19.6" text-anchor="middle" fill="#111" textLength="37" lengthAdjust="spacingAndGlyphs">2.4</text>
<text x="535.8" y="2084.6" font-size="19.6" text-anchor="middle" fill="#111" textLength="37" lengthAdjust="spacingAndGlyphs">3.6</text>
<text x="597" y="2084.6" font-size="19.6" text-anchor="middle" fill="#111" textLength="37" lengthAdjust="spacingAndGlyphs">4.8</text>
<text x="658.2" y="2084.6" font-size="19.6" text-anchor="middle" fill="#111" textLength="37" lengthAdjust="spacingAndGlyphs">6.0</text>
<text x="353.2" y="2108.4" font-size="19.6" text-anchor="middle" fill="#111" textLength="206" lengthAdjust="spacingAndGlyphs">LDA SCORE (log 10)</text>
<rect x="352.2" y="1932.4" width="273.36" height="23.3" fill="#007f00" stroke="#000" stroke-width="1"/>
<text x="345.7" y="1952.9" font-size="12.6" text-anchor="end" fill="#222" textLength="135" lengthAdjust="spacingAndGlyphs">f__Enterobacteriaceae</text>
<rect x="121.94" y="1961.6" width="230.26" height="23.7" fill="#ff0000" stroke="#000" stroke-width="1"/>
<text x="359.4" y="1982.5" font-size="12.6" fill="#222" textLength="84" lengthAdjust="spacingAndGlyphs">f__Bacillaceae</text>
<rect x="116.58" y="1991.8" width="235.62" height="23.6" fill="#ff0000" stroke="#000" stroke-width="1"/>
<text x="359.4" y="2012.6" font-size="12.6" fill="#222" textLength="88" lengthAdjust="spacingAndGlyphs">f__Gemellaceae</text>
<rect x="100.77" y="2020.9" width="251.43" height="23.6" fill="#ff0000" stroke="#000" stroke-width="1"/>
<text x="359.4" y="2041.7" font-size="12.6" fill="#222" textLength="124" lengthAdjust="spacingAndGlyphs">f__Streptococcaceae</text>
<line x1="46.2" y1="1923.1" x2="46.2" y2="2053.5" stroke="#333" stroke-opacity="0.75" stroke-width="1.2" stroke-dasharray="1.3 5.5"/>
<line x1="46.2" y1="1915.1" x2="46.2" y2="1921.4" stroke="#444" stroke-width="1.1"/>
<line x1="46.2" y1="2053" x2="46.2" y2="2061.5" stroke="#444" stroke-width="1.1"/>
<line x1="107.4" y1="1923.1" x2="107.4" y2="2053.5" stroke="#333" stroke-opacity="0.75" stroke-width="1.2" stroke-dasharray="1.3 5.5"/>
<line x1="107.4" y1="1915.1" x2="107.4" y2="1921.4" stroke="#444" stroke-width="1.1"/>
<line x1="107.4" y1="2053" x2="107.4" y2="2061.5" stroke="#444" stroke-width="1.1"/>
<line x1="168.6" y1="1923.1" x2="168.6" y2="2053.5" stroke="#333" stroke-opacity="0.75" stroke-width="1.2" stroke-dasharray="1.3 5.5"/>
<line x1="168.6" y1="1915.1" x2="168.6" y2="1921.4" stroke="#444" stroke-width="1.1"/>
<line x1="168.6" y1="2053" x2="168.6" y2="2061.5" stroke="#444" stroke-width="1.1"/>
<line x1="229.8" y1="1923.1" x2="229.8" y2="2053.5" stroke="#333" stroke-opacity="0.75" stroke-width="1.2" stroke-dasharray="1.3 5.5"/>
<line x1="229.8" y1="1915.1" x2="229.8" y2="1921.4" stroke="#444" stroke-width="1.1"/>
<line x1="229.8" y1="2053" x2="229.8" y2="2061.5" stroke="#444" stroke-width="1.1"/>
<line x1="291" y1="1923.1" x2="291" y2="2053.5" stroke="#333" stroke-opacity="0.75" stroke-width="1.2" stroke-dasharray="1.3 5.5"/>
<line x1="291" y1="1915.1" x2="291" y2="1921.4" stroke="#444" stroke-width="1.1"/>
<line x1="291" y1="2053" x2="291" y2="2061.5" stroke="#444" stroke-width="1.1"/>
<line x1="352.2" y1="1923.1" x2="352.2" y2="2053.5" stroke="#333" stroke-opacity="0.75" stroke-width="1.2" stroke-dasharray="1.3 5.5"/>
<line x1="352.2" y1="1915.1" x2="352.2" y2="1921.4" stroke="#444" stroke-width="1.1"/>
<line x1="352.2" y1="2053" x2="352.2" y2="2061.5" stroke="#444" stroke-width="1.1"/>
<line x1="413.4" y1="1923.1" x2="413.4" y2="2053.5" stroke="#333" stroke-opacity="0.75" stroke-width="1.2" stroke-dasharray="1.3 5.5"/>
<line x1="413.4" y1="1915.1" x2="413.4" y2="1921.4" stroke="#444" stroke-width="1.1"/>
<line x1="413.4" y1="2053" x2="413.4" y2="2061.5" stroke="#444" stroke-width="1.1"/>
<line x1="474.6" y1="1923.1" x2="474.6" y2="2053.5" stroke="#333" stroke-opacity="0.75" stroke-width="1.2" stroke-dasharray="1.3 5.5"/>
<line x1="474.6" y1="1915.1" x2="474.6" y2="1921.4" stroke="#444" stroke-width="1.1"/>
<line x1="474.6" y1="2053" x2="474.6" y2="2061.5" stroke="#444" stroke-width="1.1"/>
<line x1="535.8" y1="1923.1" x2="535.8" y2="2053.5" stroke="#333" stroke-opacity="0.75" stroke-width="1.2" stroke-dasharray="1.3 5.5"/>
<line x1="535.8" y1="1915.1" x2="535.8" y2="1921.4" stroke="#444" stroke-width="1.1"/>
<line x1="535.8" y1="2053" x2="535.8" y2="2061.5" stroke="#444" stroke-width="1.1"/>
<line x1="597" y1="1923.1" x2="597" y2="2053.5" stroke="#333" stroke-opacity="0.75" stroke-width="1.2" stroke-dasharray="1.3 5.5"/>
<line x1="597" y1="1915.1" x2="597" y2="1921.4" stroke="#444" stroke-width="1.1"/>
<line x1="597" y1="2053" x2="597" y2="2061.5" stroke="#444" stroke-width="1.1"/>
<line x1="658.2" y1="1923.1" x2="658.2" y2="2053.5" stroke="#333" stroke-opacity="0.75" stroke-width="1.2" stroke-dasharray="1.3 5.5"/>
<line x1="658.2" y1="1915.1" x2="658.2" y2="1921.4" stroke="#444" stroke-width="1.1"/>
<line x1="658.2" y1="2053" x2="658.2" y2="2061.5" stroke="#444" stroke-width="1.1"/>
</svg>
</body></html>
